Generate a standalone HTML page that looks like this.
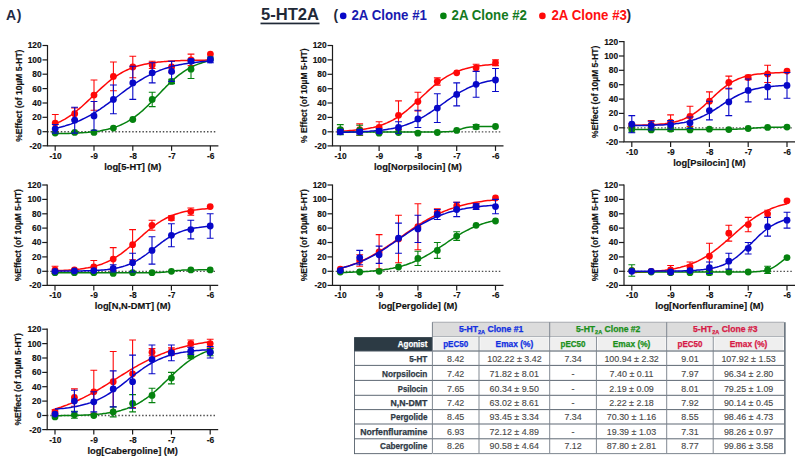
<!DOCTYPE html>
<html><head><meta charset="utf-8"><title>5-HT2A</title>
<style>
html,body{margin:0;padding:0;background:#fff;}
body{width:800px;height:460px;overflow:hidden;font-family:"Liberation Sans",sans-serif;}
svg{display:block;font-family:"Liberation Sans",sans-serif;}
.tk{font-size:8.4px;font-weight:bold;fill:#111;stroke:#111;stroke-width:0.15px;}
.xt{font-size:9.3px;font-weight:bold;fill:#111;stroke:#111;stroke-width:0.15px;}
.yt{font-size:8.5px;font-weight:bold;fill:#111;stroke:#111;stroke-width:0.15px;}
.th{font-size:8.4px;font-weight:bold;stroke-width:0.25px;}
.tn{font-size:8.4px;font-weight:bold;fill:#2f3a46;stroke:#2f3a46;stroke-width:0.25px;}
.td{font-size:8.4px;fill:#484848;stroke:#484848;stroke-width:0.12px;}
</style></head><body>
<svg width="800" height="460" viewBox="0 0 800 460">
<rect width="800" height="460" fill="#fff"/>
<text x="6" y="20.2" font-size="14px" font-weight="bold" fill="#1f2a44">A<tspan dx="0.7">)</tspan></text>
<text x="261" y="20.4" font-size="16px" font-weight="bold" fill="#1f2937" textLength="58" lengthAdjust="spacingAndGlyphs">5-HT2A</text>
<rect x="260.5" y="22.6" width="59" height="1.7" fill="#1f2937"/>
<g font-size="13.8px" font-weight="bold">
<text x="333.5" y="20.0" fill="#1f2937">(</text>
<circle cx="343.2" cy="15.9" r="3.3" fill="#0808c8"/>
<text x="351.5" y="20.0" fill="#1a1ab0" textLength="75.4" lengthAdjust="spacingAndGlyphs">2A Clone #1</text>
<circle cx="443.4" cy="15.9" r="3.3" fill="#05820f"/>
<text x="451.6" y="20.0" fill="#157a1e" textLength="75.4" lengthAdjust="spacingAndGlyphs">2A Clone #2</text>
<circle cx="542.4" cy="15.9" r="3.3" fill="#ff0808"/>
<text x="551.5" y="20.0" fill="#ff1010" textLength="75.4" lengthAdjust="spacingAndGlyphs">2A Clone #3</text>
<text x="626.6" y="20.0" fill="#1f2937">)</text>
</g>
<g>
<line x1="47.2" y1="131.7" x2="216.4" y2="131.7" stroke="#505050" stroke-width="1.35" stroke-dasharray="1.5 1.9"/>
<polyline points="55.2,123.8 57.2,123.0 59.1,122.1 61.1,121.2 63.0,120.2 65.0,119.1 66.9,117.9 68.8,116.7 70.8,115.3 72.7,113.9 74.7,112.5 76.6,110.9 78.5,109.3 80.5,107.7 82.4,106.0 84.3,104.2 86.3,102.4 88.2,100.6 90.2,98.7 92.1,96.8 94.0,94.9 96.0,93.1 97.9,91.2 99.9,89.4 101.8,87.6 103.8,85.9 105.7,84.2 107.6,82.5 109.6,80.9 111.5,79.4 113.4,78.0 115.4,76.6 117.3,75.3 119.3,74.1 121.2,73.0 123.1,71.9 125.1,70.9 127.0,70.0 129.0,69.1 130.9,68.3 132.8,67.6 134.8,66.9 136.7,66.3 138.7,65.7 140.6,65.2 142.6,64.7 144.5,64.3 146.4,63.9 148.4,63.5 150.3,63.2 152.2,62.9 154.2,62.6 156.1,62.4 158.1,62.1 160.0,61.9 161.9,61.7 163.9,61.6 165.8,61.4 167.8,61.3 169.7,61.2 171.6,61.0 173.6,60.9 175.5,60.8 177.5,60.8 179.4,60.7 181.3,60.6 183.3,60.6 185.2,60.5 187.2,60.4 189.1,60.4 191.0,60.4 193.0,60.3 194.9,60.3 196.9,60.3 198.8,60.2 200.8,60.2 202.7,60.2 204.6,60.2 206.6,60.1 208.5,60.1 210.4,60.1" fill="none" stroke="#ff0808" stroke-width="1.5" stroke-linejoin="round"/>
<path d="M55.2 114.5V131.7M51.9 114.5h6.8M51.9 131.7h6.8" stroke="#ff0808" stroke-width="1.1" fill="none"/>
<path d="M74.7 108.0V119.5M71.2 108.0h6.8M71.2 119.5h6.8" stroke="#ff0808" stroke-width="1.1" fill="none"/>
<path d="M94.0 80.0V110.2M90.6 80.0h6.8M90.6 110.2h6.8" stroke="#ff0808" stroke-width="1.1" fill="none"/>
<path d="M113.4 62.0V90.8M110.0 62.0h6.8M110.0 90.8h6.8" stroke="#ff0808" stroke-width="1.1" fill="none"/>
<path d="M132.8 56.3V77.8M129.4 56.3h6.8M129.4 77.8h6.8" stroke="#ff0808" stroke-width="1.1" fill="none"/>
<path d="M152.2 61.3V68.5M148.8 61.3h6.8M148.8 68.5h6.8" stroke="#ff0808" stroke-width="1.1" fill="none"/>
<path d="M171.6 61.3V72.8M168.2 61.3h6.8M168.2 72.8h6.8" stroke="#ff0808" stroke-width="1.1" fill="none"/>
<path d="M191.0 54.1V65.6M187.6 54.1h6.8M187.6 65.6h6.8" stroke="#ff0808" stroke-width="1.1" fill="none"/>
<circle cx="55.2" cy="123.1" r="3.4" fill="#ff0808"/>
<circle cx="74.7" cy="113.7" r="3.4" fill="#ff0808"/>
<circle cx="94.0" cy="95.1" r="3.4" fill="#ff0808"/>
<circle cx="113.4" cy="76.4" r="3.4" fill="#ff0808"/>
<circle cx="132.8" cy="67.0" r="3.4" fill="#ff0808"/>
<circle cx="152.2" cy="64.9" r="3.4" fill="#ff0808"/>
<circle cx="171.6" cy="67.0" r="3.4" fill="#ff0808"/>
<circle cx="191.0" cy="59.9" r="3.4" fill="#ff0808"/>
<circle cx="210.4" cy="54.1" r="3.4" fill="#ff0808"/>
<polyline points="55.2,133.7 57.2,133.6 59.1,133.6 61.1,133.6 63.0,133.5 65.0,133.5 66.9,133.4 68.8,133.4 70.8,133.3 72.7,133.2 74.7,133.1 76.6,133.1 78.5,133.0 80.5,132.8 82.4,132.7 84.3,132.6 86.3,132.4 88.2,132.3 90.2,132.1 92.1,131.9 94.0,131.7 96.0,131.4 97.9,131.2 99.9,130.9 101.8,130.5 103.8,130.1 105.7,129.7 107.6,129.3 109.6,128.8 111.5,128.3 113.4,127.7 115.4,127.0 117.3,126.4 119.3,125.6 121.2,124.8 123.1,123.9 125.1,122.9 127.0,121.9 129.0,120.7 130.9,119.5 132.8,118.2 134.8,116.9 136.7,115.4 138.7,113.9 140.6,112.3 142.6,110.6 144.5,108.8 146.4,107.0 148.4,105.1 150.3,103.1 152.2,101.2 154.2,99.1 156.1,97.1 158.1,95.0 160.0,93.0 161.9,90.9 163.9,88.9 165.8,86.9 167.8,85.0 169.7,83.1 171.6,81.3 173.6,79.5 175.5,77.8 177.5,76.2 179.4,74.7 181.3,73.3 183.3,71.9 185.2,70.6 187.2,69.4 189.1,68.3 191.0,67.3 193.0,66.3 194.9,65.4 196.9,64.6 198.8,63.9 200.8,63.2 202.7,62.5 204.6,62.0 206.6,61.4 208.5,60.9 210.4,60.5" fill="none" stroke="#05820f" stroke-width="1.5" stroke-linejoin="round"/>
<path d="M152.2 92.2V106.6M148.8 92.2h6.8M148.8 106.6h6.8" stroke="#05820f" stroke-width="1.1" fill="none"/>
<path d="M171.6 79.3V83.6M168.2 79.3h6.8M168.2 83.6h6.8" stroke="#05820f" stroke-width="1.1" fill="none"/>
<path d="M191.0 59.9V78.5M187.6 59.9h6.8M187.6 78.5h6.8" stroke="#05820f" stroke-width="1.1" fill="none"/>
<circle cx="55.2" cy="133.1" r="3.4" fill="#05820f"/>
<circle cx="74.7" cy="132.4" r="3.4" fill="#05820f"/>
<circle cx="94.0" cy="132.4" r="3.4" fill="#05820f"/>
<circle cx="113.4" cy="128.1" r="3.4" fill="#05820f"/>
<circle cx="132.8" cy="119.5" r="3.4" fill="#05820f"/>
<circle cx="152.2" cy="99.4" r="3.4" fill="#05820f"/>
<circle cx="171.6" cy="81.4" r="3.4" fill="#05820f"/>
<circle cx="191.0" cy="69.2" r="3.4" fill="#05820f"/>
<circle cx="210.4" cy="59.1" r="3.4" fill="#05820f"/>
<polyline points="55.2,128.2 57.2,127.8 59.1,127.4 61.1,126.9 63.0,126.4 65.0,125.9 66.9,125.3 68.8,124.7 70.8,124.1 72.7,123.4 74.7,122.6 76.6,121.9 78.5,121.1 80.5,120.2 82.4,119.3 84.3,118.4 86.3,117.4 88.2,116.4 90.2,115.3 92.1,114.2 94.0,113.0 96.0,111.8 97.9,110.5 99.9,109.3 101.8,107.9 103.8,106.6 105.7,105.2 107.6,103.8 109.6,102.3 111.5,100.9 113.4,99.4 115.4,98.0 117.3,96.5 119.3,95.0 121.2,93.5 123.1,92.1 125.1,90.6 127.0,89.2 129.0,87.8 130.9,86.4 132.8,85.0 134.8,83.7 136.7,82.4 138.7,81.2 140.6,80.0 142.6,78.8 144.5,77.7 146.4,76.6 148.4,75.6 150.3,74.6 152.2,73.7 154.2,72.8 156.1,71.9 158.1,71.1 160.0,70.3 161.9,69.6 163.9,68.9 165.8,68.3 167.8,67.7 169.7,67.1 171.6,66.6 173.6,66.1 175.5,65.6 177.5,65.2 179.4,64.8 181.3,64.4 183.3,64.1 185.2,63.7 187.2,63.4 189.1,63.1 191.0,62.9 193.0,62.6 194.9,62.4 196.9,62.2 198.8,62.0 200.8,61.8 202.7,61.6 204.6,61.5 206.6,61.3 208.5,61.2 210.4,61.0" fill="none" stroke="#0808c8" stroke-width="1.5" stroke-linejoin="round"/>
<path d="M55.2 124.5V133.1M51.9 124.5h6.8M51.9 133.1h6.8" stroke="#0808c8" stroke-width="1.1" fill="none"/>
<path d="M74.7 107.3V133.1M71.2 107.3h6.8M71.2 133.1h6.8" stroke="#0808c8" stroke-width="1.1" fill="none"/>
<path d="M94.0 101.5V130.3M90.6 101.5h6.8M90.6 130.3h6.8" stroke="#0808c8" stroke-width="1.1" fill="none"/>
<path d="M113.4 85.0V113.7M110.0 85.0h6.8M110.0 113.7h6.8" stroke="#0808c8" stroke-width="1.1" fill="none"/>
<path d="M132.8 66.3V99.4M129.4 66.3h6.8M129.4 99.4h6.8" stroke="#0808c8" stroke-width="1.1" fill="none"/>
<path d="M152.2 62.7V82.9M148.8 62.7h6.8M148.8 82.9h6.8" stroke="#0808c8" stroke-width="1.1" fill="none"/>
<path d="M171.6 61.3V81.4M168.2 61.3h6.8M168.2 81.4h6.8" stroke="#0808c8" stroke-width="1.1" fill="none"/>
<path d="M191.0 59.1V63.5M187.6 59.1h6.8M187.6 63.5h6.8" stroke="#0808c8" stroke-width="1.1" fill="none"/>
<path d="M210.4 57.0V62.7M207.0 57.0h6.8M207.0 62.7h6.8" stroke="#0808c8" stroke-width="1.1" fill="none"/>
<circle cx="55.2" cy="128.8" r="3.4" fill="#0808c8"/>
<circle cx="74.7" cy="120.2" r="3.4" fill="#0808c8"/>
<circle cx="94.0" cy="115.9" r="3.4" fill="#0808c8"/>
<circle cx="113.4" cy="99.4" r="3.4" fill="#0808c8"/>
<circle cx="132.8" cy="82.9" r="3.4" fill="#0808c8"/>
<circle cx="152.2" cy="72.8" r="3.4" fill="#0808c8"/>
<circle cx="171.6" cy="71.4" r="3.4" fill="#0808c8"/>
<circle cx="191.0" cy="61.3" r="3.4" fill="#0808c8"/>
<circle cx="210.4" cy="59.9" r="3.4" fill="#0808c8"/>
<path d="M47.5 44.9V145.8H218.4" stroke="#1c1c1c" stroke-width="1.2" fill="none"/>
<line x1="42.5" y1="145.8" x2="47.5" y2="145.8" stroke="#1c1c1c" stroke-width="1.2"/>
<text x="41.7" y="148.7" text-anchor="end" class="tk">-20</text>
<line x1="42.5" y1="131.7" x2="47.5" y2="131.7" stroke="#1c1c1c" stroke-width="1.2"/>
<text x="41.7" y="134.6" text-anchor="end" class="tk">0</text>
<line x1="42.5" y1="117.3" x2="47.5" y2="117.3" stroke="#1c1c1c" stroke-width="1.2"/>
<text x="41.7" y="120.2" text-anchor="end" class="tk">20</text>
<line x1="42.5" y1="103.0" x2="47.5" y2="103.0" stroke="#1c1c1c" stroke-width="1.2"/>
<text x="41.7" y="105.9" text-anchor="end" class="tk">40</text>
<line x1="42.5" y1="88.6" x2="47.5" y2="88.6" stroke="#1c1c1c" stroke-width="1.2"/>
<text x="41.7" y="91.5" text-anchor="end" class="tk">60</text>
<line x1="42.5" y1="74.2" x2="47.5" y2="74.2" stroke="#1c1c1c" stroke-width="1.2"/>
<text x="41.7" y="77.1" text-anchor="end" class="tk">80</text>
<line x1="42.5" y1="59.9" x2="47.5" y2="59.9" stroke="#1c1c1c" stroke-width="1.2"/>
<text x="41.7" y="62.8" text-anchor="end" class="tk">100</text>
<line x1="42.5" y1="45.5" x2="47.5" y2="45.5" stroke="#1c1c1c" stroke-width="1.2"/>
<text x="41.7" y="48.4" text-anchor="end" class="tk">120</text>
<line x1="55.2" y1="145.8" x2="55.2" y2="150.8" stroke="#1c1c1c" stroke-width="1.2"/>
<text x="55.5" y="158.7" text-anchor="middle" class="tk">-10</text>
<line x1="94.0" y1="145.8" x2="94.0" y2="150.8" stroke="#1c1c1c" stroke-width="1.2"/>
<text x="94.3" y="158.7" text-anchor="middle" class="tk">-9</text>
<line x1="132.8" y1="145.8" x2="132.8" y2="150.8" stroke="#1c1c1c" stroke-width="1.2"/>
<text x="133.2" y="158.7" text-anchor="middle" class="tk">-8</text>
<line x1="171.6" y1="145.8" x2="171.6" y2="150.8" stroke="#1c1c1c" stroke-width="1.2"/>
<text x="171.9" y="158.7" text-anchor="middle" class="tk">-7</text>
<line x1="210.4" y1="145.8" x2="210.4" y2="150.8" stroke="#1c1c1c" stroke-width="1.2"/>
<text x="210.8" y="158.7" text-anchor="middle" class="tk">-6</text>
<text x="132.8" y="169.8" text-anchor="middle" class="xt">log[5-HT] (M)</text>
<text transform="translate(21.6 95.7) rotate(-90)" text-anchor="middle" class="yt">%Effect (of 10µM 5-HT)</text>
</g>
<g>
<line x1="332.2" y1="131.8" x2="501.5" y2="131.8" stroke="#505050" stroke-width="1.35" stroke-dasharray="1.5 1.9"/>
<polyline points="340.3,131.1 342.2,131.1 344.2,131.0 346.1,130.9 348.1,130.7 350.0,130.6 351.9,130.5 353.9,130.3 355.8,130.1 357.8,129.9 359.7,129.7 361.6,129.5 363.6,129.2 365.5,128.9 367.5,128.6 369.4,128.2 371.3,127.8 373.3,127.4 375.2,126.9 377.2,126.4 379.1,125.8 381.0,125.2 383.0,124.5 384.9,123.7 386.9,122.9 388.8,122.0 390.7,121.1 392.7,120.1 394.6,119.0 396.6,117.8 398.5,116.6 400.4,115.3 402.4,113.9 404.3,112.4 406.3,110.9 408.2,109.3 410.1,107.6 412.1,105.9 414.0,104.1 416.0,102.3 417.9,100.5 419.8,98.7 421.8,96.8 423.7,95.0 425.7,93.2 427.6,91.4 429.5,89.6 431.5,87.9 433.4,86.2 435.4,84.6 437.3,83.1 439.2,81.6 441.2,80.2 443.1,78.9 445.1,77.6 447.0,76.4 448.9,75.3 450.9,74.3 452.8,73.3 454.8,72.4 456.7,71.6 458.6,70.9 460.6,70.2 462.5,69.5 464.5,69.0 466.4,68.4 468.3,67.9 470.3,67.5 472.2,67.1 474.2,66.7 476.1,66.4 478.0,66.1 480.0,65.8 481.9,65.6 483.9,65.3 485.8,65.1 487.7,65.0 489.7,64.8 491.6,64.6 493.6,64.5 495.5,64.4" fill="none" stroke="#ff0808" stroke-width="1.5" stroke-linejoin="round"/>
<path d="M340.3 128.2V132.5M336.9 128.2h6.8M336.9 132.5h6.8" stroke="#ff0808" stroke-width="1.1" fill="none"/>
<path d="M359.7 123.9V135.3M356.3 123.9h6.8M356.3 135.3h6.8" stroke="#ff0808" stroke-width="1.1" fill="none"/>
<path d="M379.1 121.7V133.2M375.7 121.7h6.8M375.7 133.2h6.8" stroke="#ff0808" stroke-width="1.1" fill="none"/>
<path d="M398.5 100.9V129.6M395.1 100.9h6.8M395.1 129.6h6.8" stroke="#ff0808" stroke-width="1.1" fill="none"/>
<path d="M417.9 92.2V110.9M414.5 92.2h6.8M414.5 110.9h6.8" stroke="#ff0808" stroke-width="1.1" fill="none"/>
<path d="M437.3 77.9V85.1M433.9 77.9h6.8M433.9 85.1h6.8" stroke="#ff0808" stroke-width="1.1" fill="none"/>
<path d="M476.1 64.2V71.4M472.7 64.2h6.8M472.7 71.4h6.8" stroke="#ff0808" stroke-width="1.1" fill="none"/>
<path d="M495.5 59.9V65.6M492.1 59.9h6.8M492.1 65.6h6.8" stroke="#ff0808" stroke-width="1.1" fill="none"/>
<circle cx="340.3" cy="130.4" r="3.4" fill="#ff0808"/>
<circle cx="359.7" cy="129.6" r="3.4" fill="#ff0808"/>
<circle cx="379.1" cy="127.5" r="3.4" fill="#ff0808"/>
<circle cx="398.5" cy="115.3" r="3.4" fill="#ff0808"/>
<circle cx="417.9" cy="101.6" r="3.4" fill="#ff0808"/>
<circle cx="437.3" cy="81.5" r="3.4" fill="#ff0808"/>
<circle cx="456.7" cy="72.8" r="3.4" fill="#ff0808"/>
<circle cx="476.1" cy="67.8" r="3.4" fill="#ff0808"/>
<circle cx="495.5" cy="62.8" r="3.4" fill="#ff0808"/>
<polyline points="340.3,131.9 342.2,131.9 344.2,131.9 346.1,131.9 348.1,131.9 350.0,131.9 351.9,131.9 353.9,131.9 355.8,131.9 357.8,131.9 359.7,131.9 361.6,131.9 363.6,131.9 365.5,131.9 367.5,131.9 369.4,131.9 371.3,131.9 373.3,131.9 375.2,131.9 377.2,131.9 379.1,131.9 381.0,131.9 383.0,131.9 384.9,131.9 386.9,131.9 388.8,131.9 390.7,131.9 392.7,131.9 394.6,131.9 396.6,131.9 398.5,131.9 400.4,131.9 402.4,131.9 404.3,131.9 406.3,131.9 408.2,131.9 410.1,131.9 412.1,131.9 414.0,131.9 416.0,131.9 417.9,131.9 419.8,131.9 421.8,131.9 423.7,131.9 425.7,131.9 427.6,131.9 429.5,131.9 431.5,131.9 433.4,131.9 435.4,131.9 437.3,131.9 439.2,131.9 441.2,131.9 443.1,131.8 445.1,131.8 447.0,131.7 448.9,131.6 450.9,131.4 452.8,131.2 454.8,130.8 456.7,130.4 458.6,129.8 460.6,129.2 462.5,128.6 464.5,128.1 466.4,127.6 468.3,127.3 470.3,127.0 472.2,126.9 474.2,126.8 476.1,126.7 478.0,126.6 480.0,126.6 481.9,126.6 483.9,126.6 485.8,126.6 487.7,126.6 489.7,126.6 491.6,126.6 493.6,126.6 495.5,126.6" fill="none" stroke="#05820f" stroke-width="1.5" stroke-linejoin="round"/>
<path d="M340.3 124.6V134.6M336.9 124.6h6.8M336.9 134.6h6.8" stroke="#05820f" stroke-width="1.1" fill="none"/>
<path d="M359.7 125.3V135.3M356.3 125.3h6.8M356.3 135.3h6.8" stroke="#05820f" stroke-width="1.1" fill="none"/>
<path d="M476.1 124.6V128.9M472.7 124.6h6.8M472.7 128.9h6.8" stroke="#05820f" stroke-width="1.1" fill="none"/>
<circle cx="340.3" cy="129.6" r="3.4" fill="#05820f"/>
<circle cx="359.7" cy="130.4" r="3.4" fill="#05820f"/>
<circle cx="379.1" cy="133.2" r="3.4" fill="#05820f"/>
<circle cx="398.5" cy="132.5" r="3.4" fill="#05820f"/>
<circle cx="417.9" cy="133.2" r="3.4" fill="#05820f"/>
<circle cx="437.3" cy="132.5" r="3.4" fill="#05820f"/>
<circle cx="456.7" cy="130.4" r="3.4" fill="#05820f"/>
<circle cx="476.1" cy="126.8" r="3.4" fill="#05820f"/>
<circle cx="495.5" cy="126.5" r="3.4" fill="#05820f"/>
<polyline points="340.3,132.3 342.2,132.3 344.2,132.3 346.1,132.2 348.1,132.2 350.0,132.1 351.9,132.1 353.9,132.0 355.8,132.0 357.8,131.9 359.7,131.8 361.6,131.7 363.6,131.6 365.5,131.5 367.5,131.4 369.4,131.3 371.3,131.1 373.3,131.0 375.2,130.8 377.2,130.6 379.1,130.4 381.0,130.2 383.0,130.0 384.9,129.7 386.9,129.4 388.8,129.1 390.7,128.8 392.7,128.4 394.6,128.0 396.6,127.5 398.5,127.1 400.4,126.5 402.4,126.0 404.3,125.4 406.3,124.7 408.2,124.0 410.1,123.3 412.1,122.5 414.0,121.6 416.0,120.7 417.9,119.8 419.8,118.8 421.8,117.7 423.7,116.6 425.7,115.4 427.6,114.2 429.5,113.0 431.5,111.7 433.4,110.4 435.4,109.0 437.3,107.6 439.2,106.3 441.2,104.9 443.1,103.5 445.1,102.1 447.0,100.7 448.9,99.4 450.9,98.0 452.8,96.7 454.8,95.5 456.7,94.2 458.6,93.1 460.6,91.9 462.5,90.8 464.5,89.8 466.4,88.8 468.3,87.9 470.3,87.0 472.2,86.2 474.2,85.4 476.1,84.7 478.0,84.0 480.0,83.4 481.9,82.8 483.9,82.3 485.8,81.8 487.7,81.3 489.7,80.9 491.6,80.5 493.6,80.2 495.5,79.8" fill="none" stroke="#0808c8" stroke-width="1.5" stroke-linejoin="round"/>
<path d="M340.3 129.6V133.9M336.9 129.6h6.8M336.9 133.9h6.8" stroke="#0808c8" stroke-width="1.1" fill="none"/>
<path d="M359.7 129.6V133.9M356.3 129.6h6.8M356.3 133.9h6.8" stroke="#0808c8" stroke-width="1.1" fill="none"/>
<path d="M379.1 128.9V133.2M375.7 128.9h6.8M375.7 133.2h6.8" stroke="#0808c8" stroke-width="1.1" fill="none"/>
<path d="M398.5 121.7V133.2M395.1 121.7h6.8M395.1 133.2h6.8" stroke="#0808c8" stroke-width="1.1" fill="none"/>
<path d="M417.9 110.2V127.5M414.5 110.2h6.8M414.5 127.5h6.8" stroke="#0808c8" stroke-width="1.1" fill="none"/>
<path d="M437.3 93.7V122.5M433.9 93.7h6.8M433.9 122.5h6.8" stroke="#0808c8" stroke-width="1.1" fill="none"/>
<path d="M456.7 82.9V105.9M453.3 82.9h6.8M453.3 105.9h6.8" stroke="#0808c8" stroke-width="1.1" fill="none"/>
<path d="M476.1 71.4V97.3M472.7 71.4h6.8M472.7 97.3h6.8" stroke="#0808c8" stroke-width="1.1" fill="none"/>
<path d="M495.5 68.5V91.5M492.1 68.5h6.8M492.1 91.5h6.8" stroke="#0808c8" stroke-width="1.1" fill="none"/>
<circle cx="340.3" cy="131.8" r="3.4" fill="#0808c8"/>
<circle cx="359.7" cy="131.8" r="3.4" fill="#0808c8"/>
<circle cx="379.1" cy="131.1" r="3.4" fill="#0808c8"/>
<circle cx="398.5" cy="127.5" r="3.4" fill="#0808c8"/>
<circle cx="417.9" cy="118.9" r="3.4" fill="#0808c8"/>
<circle cx="437.3" cy="108.1" r="3.4" fill="#0808c8"/>
<circle cx="456.7" cy="94.4" r="3.4" fill="#0808c8"/>
<circle cx="476.1" cy="84.3" r="3.4" fill="#0808c8"/>
<circle cx="495.5" cy="80.0" r="3.4" fill="#0808c8"/>
<path d="M332.5 44.9V145.9H503.5" stroke="#1c1c1c" stroke-width="1.2" fill="none"/>
<line x1="327.5" y1="145.9" x2="332.5" y2="145.9" stroke="#1c1c1c" stroke-width="1.2"/>
<text x="326.7" y="148.8" text-anchor="end" class="tk">-20</text>
<line x1="327.5" y1="131.8" x2="332.5" y2="131.8" stroke="#1c1c1c" stroke-width="1.2"/>
<text x="326.7" y="134.7" text-anchor="end" class="tk">0</text>
<line x1="327.5" y1="117.4" x2="332.5" y2="117.4" stroke="#1c1c1c" stroke-width="1.2"/>
<text x="326.7" y="120.3" text-anchor="end" class="tk">20</text>
<line x1="327.5" y1="103.0" x2="332.5" y2="103.0" stroke="#1c1c1c" stroke-width="1.2"/>
<text x="326.7" y="105.9" text-anchor="end" class="tk">40</text>
<line x1="327.5" y1="88.7" x2="332.5" y2="88.7" stroke="#1c1c1c" stroke-width="1.2"/>
<text x="326.7" y="91.6" text-anchor="end" class="tk">60</text>
<line x1="327.5" y1="74.3" x2="332.5" y2="74.3" stroke="#1c1c1c" stroke-width="1.2"/>
<text x="326.7" y="77.2" text-anchor="end" class="tk">80</text>
<line x1="327.5" y1="59.9" x2="332.5" y2="59.9" stroke="#1c1c1c" stroke-width="1.2"/>
<text x="326.7" y="62.8" text-anchor="end" class="tk">100</text>
<line x1="327.5" y1="45.5" x2="332.5" y2="45.5" stroke="#1c1c1c" stroke-width="1.2"/>
<text x="326.7" y="48.4" text-anchor="end" class="tk">120</text>
<line x1="340.3" y1="145.9" x2="340.3" y2="150.9" stroke="#1c1c1c" stroke-width="1.2"/>
<text x="340.6" y="158.8" text-anchor="middle" class="tk">-10</text>
<line x1="379.1" y1="145.9" x2="379.1" y2="150.9" stroke="#1c1c1c" stroke-width="1.2"/>
<text x="379.4" y="158.8" text-anchor="middle" class="tk">-9</text>
<line x1="417.9" y1="145.9" x2="417.9" y2="150.9" stroke="#1c1c1c" stroke-width="1.2"/>
<text x="418.2" y="158.8" text-anchor="middle" class="tk">-8</text>
<line x1="456.7" y1="145.9" x2="456.7" y2="150.9" stroke="#1c1c1c" stroke-width="1.2"/>
<text x="457.0" y="158.8" text-anchor="middle" class="tk">-7</text>
<line x1="495.5" y1="145.9" x2="495.5" y2="150.9" stroke="#1c1c1c" stroke-width="1.2"/>
<text x="495.8" y="158.8" text-anchor="middle" class="tk">-6</text>
<text x="417.9" y="169.9" text-anchor="middle" class="xt">log[Norpsilocin] (M)</text>
<text transform="translate(306.6 95.7) rotate(-90)" text-anchor="middle" class="yt">% Effect (of 10µM 5-HT)</text>
</g>
<g>
<line x1="623.7" y1="127.8" x2="793.0" y2="127.8" stroke="#505050" stroke-width="1.35" stroke-dasharray="1.5 1.9"/>
<polyline points="631.8,125.3 633.7,125.3 635.7,125.3 637.6,125.2 639.6,125.2 641.5,125.2 643.4,125.1 645.4,125.0 647.3,125.0 649.3,124.9 651.2,124.8 653.1,124.7 655.1,124.6 657.0,124.5 659.0,124.3 660.9,124.1 662.8,123.9 664.8,123.7 666.7,123.4 668.7,123.1 670.6,122.8 672.5,122.4 674.5,122.0 676.4,121.5 678.4,121.0 680.3,120.3 682.2,119.7 684.2,118.9 686.1,118.0 688.1,117.1 690.0,116.1 691.9,114.9 693.9,113.7 695.8,112.3 697.8,110.9 699.7,109.4 701.6,107.8 703.6,106.1 705.5,104.3 707.5,102.5 709.4,100.7 711.3,98.8 713.3,97.0 715.2,95.1 717.2,93.3 719.1,91.6 721.0,89.9 723.0,88.3 724.9,86.8 726.9,85.3 728.8,84.0 730.7,82.8 732.7,81.7 734.6,80.6 736.6,79.7 738.5,78.8 740.4,78.1 742.4,77.4 744.3,76.8 746.3,76.2 748.2,75.8 750.1,75.3 752.1,75.0 754.0,74.6 756.0,74.3 757.9,74.1 759.8,73.9 761.8,73.7 763.7,73.5 765.7,73.3 767.6,73.2 769.5,73.1 771.5,73.0 773.4,72.9 775.4,72.8 777.3,72.8 779.2,72.7 781.2,72.6 783.1,72.6 785.1,72.6 787.0,72.5" fill="none" stroke="#ff0808" stroke-width="1.5" stroke-linejoin="round"/>
<path d="M631.8 123.5V127.8M628.4 123.5h6.8M628.4 127.8h6.8" stroke="#ff0808" stroke-width="1.1" fill="none"/>
<path d="M651.2 120.6V129.2M647.8 120.6h6.8M647.8 129.2h6.8" stroke="#ff0808" stroke-width="1.1" fill="none"/>
<path d="M670.6 114.9V129.2M667.2 114.9h6.8M667.2 129.2h6.8" stroke="#ff0808" stroke-width="1.1" fill="none"/>
<path d="M690.0 106.2V126.4M686.6 106.2h6.8M686.6 126.4h6.8" stroke="#ff0808" stroke-width="1.1" fill="none"/>
<path d="M709.4 91.9V110.6M706.0 91.9h6.8M706.0 110.6h6.8" stroke="#ff0808" stroke-width="1.1" fill="none"/>
<path d="M728.8 76.1V89.0M725.4 76.1h6.8M725.4 89.0h6.8" stroke="#ff0808" stroke-width="1.1" fill="none"/>
<path d="M748.2 75.4V79.7M744.8 75.4h6.8M744.8 79.7h6.8" stroke="#ff0808" stroke-width="1.1" fill="none"/>
<path d="M767.6 65.3V82.5M764.2 65.3h6.8M764.2 82.5h6.8" stroke="#ff0808" stroke-width="1.1" fill="none"/>
<circle cx="631.8" cy="125.6" r="3.4" fill="#ff0808"/>
<circle cx="651.2" cy="124.9" r="3.4" fill="#ff0808"/>
<circle cx="670.6" cy="122.1" r="3.4" fill="#ff0808"/>
<circle cx="690.0" cy="116.3" r="3.4" fill="#ff0808"/>
<circle cx="709.4" cy="101.2" r="3.4" fill="#ff0808"/>
<circle cx="728.8" cy="82.5" r="3.4" fill="#ff0808"/>
<circle cx="748.2" cy="77.5" r="3.4" fill="#ff0808"/>
<circle cx="767.6" cy="73.9" r="3.4" fill="#ff0808"/>
<circle cx="787.0" cy="71.1" r="3.4" fill="#ff0808"/>
<polyline points="631.8,129.5 633.7,129.5 635.7,129.5 637.6,129.5 639.6,129.5 641.5,129.5 643.4,129.5 645.4,129.5 647.3,129.5 649.3,129.5 651.2,129.5 653.1,129.5 655.1,129.5 657.0,129.5 659.0,129.5 660.9,129.5 662.8,129.5 664.8,129.5 666.7,129.5 668.7,129.5 670.6,129.5 672.5,129.5 674.5,129.5 676.4,129.5 678.4,129.5 680.3,129.5 682.2,129.5 684.2,129.5 686.1,129.5 688.1,129.5 690.0,129.5 691.9,129.5 693.9,129.5 695.8,129.5 697.8,129.5 699.7,129.5 701.6,129.5 703.6,129.5 705.5,129.5 707.5,129.5 709.4,129.5 711.3,129.5 713.3,129.5 715.2,129.5 717.2,129.5 719.1,129.5 721.0,129.5 723.0,129.5 724.9,129.4 726.9,129.4 728.8,129.4 730.7,129.4 732.7,129.3 734.6,129.3 736.6,129.2 738.5,129.1 740.4,129.1 742.4,128.9 744.3,128.8 746.3,128.7 748.2,128.6 750.1,128.4 752.1,128.3 754.0,128.1 756.0,128.0 757.9,127.8 759.8,127.7 761.8,127.6 763.7,127.5 765.7,127.4 767.6,127.4 769.5,127.3 771.5,127.3 773.4,127.2 775.4,127.2 777.3,127.2 779.2,127.2 781.2,127.2 783.1,127.1 785.1,127.1 787.0,127.1" fill="none" stroke="#05820f" stroke-width="1.5" stroke-linejoin="round"/>
<path d="M631.8 126.4V132.0M628.4 126.4h6.8M628.4 132.0h6.8" stroke="#05820f" stroke-width="1.1" fill="none"/>
<path d="M670.6 127.1V131.3M667.2 127.1h6.8M667.2 131.3h6.8" stroke="#05820f" stroke-width="1.1" fill="none"/>
<circle cx="631.8" cy="129.2" r="3.4" fill="#05820f"/>
<circle cx="651.2" cy="129.9" r="3.4" fill="#05820f"/>
<circle cx="670.6" cy="129.2" r="3.4" fill="#05820f"/>
<circle cx="690.0" cy="129.9" r="3.4" fill="#05820f"/>
<circle cx="709.4" cy="129.2" r="3.4" fill="#05820f"/>
<circle cx="728.8" cy="129.6" r="3.4" fill="#05820f"/>
<circle cx="748.2" cy="128.5" r="3.4" fill="#05820f"/>
<circle cx="767.6" cy="127.4" r="3.4" fill="#05820f"/>
<circle cx="787.0" cy="127.1" r="3.4" fill="#05820f"/>
<polyline points="631.8,125.6 633.7,125.6 635.7,125.6 637.6,125.6 639.6,125.6 641.5,125.5 643.4,125.5 645.4,125.5 647.3,125.4 649.3,125.4 651.2,125.3 653.1,125.3 655.1,125.2 657.0,125.1 659.0,125.1 660.9,125.0 662.8,124.9 664.8,124.7 666.7,124.6 668.7,124.5 670.6,124.3 672.5,124.1 674.5,123.9 676.4,123.6 678.4,123.4 680.3,123.1 682.2,122.7 684.2,122.4 686.1,122.0 688.1,121.5 690.0,121.0 691.9,120.4 693.9,119.8 695.8,119.2 697.8,118.4 699.7,117.7 701.6,116.8 703.6,115.9 705.5,114.9 707.5,113.9 709.4,112.8 711.3,111.7 713.3,110.5 715.2,109.3 717.2,108.0 719.1,106.8 721.0,105.5 723.0,104.2 724.9,102.9 726.9,101.7 728.8,100.5 730.7,99.3 732.7,98.1 734.6,97.0 736.6,96.0 738.5,95.0 740.4,94.1 742.4,93.2 744.3,92.4 746.3,91.7 748.2,91.0 750.1,90.4 752.1,89.8 754.0,89.3 756.0,88.8 757.9,88.4 759.8,88.0 761.8,87.6 763.7,87.3 765.7,87.1 767.6,86.8 769.5,86.6 771.5,86.4 773.4,86.2 775.4,86.1 777.3,85.9 779.2,85.8 781.2,85.7 783.1,85.6 785.1,85.5 787.0,85.4" fill="none" stroke="#0808c8" stroke-width="1.5" stroke-linejoin="round"/>
<path d="M631.8 115.6V132.7M628.4 115.6h6.8M628.4 132.7h6.8" stroke="#0808c8" stroke-width="1.1" fill="none"/>
<path d="M651.2 121.3V129.9M647.8 121.3h6.8M647.8 129.9h6.8" stroke="#0808c8" stroke-width="1.1" fill="none"/>
<path d="M670.6 120.6V129.2M667.2 120.6h6.8M667.2 129.2h6.8" stroke="#0808c8" stroke-width="1.1" fill="none"/>
<path d="M690.0 117.0V128.5M686.6 117.0h6.8M686.6 128.5h6.8" stroke="#0808c8" stroke-width="1.1" fill="none"/>
<path d="M709.4 101.2V119.9M706.0 101.2h6.8M706.0 119.9h6.8" stroke="#0808c8" stroke-width="1.1" fill="none"/>
<path d="M728.8 88.3V115.6M725.4 88.3h6.8M725.4 115.6h6.8" stroke="#0808c8" stroke-width="1.1" fill="none"/>
<path d="M748.2 79.0V101.9M744.8 79.0h6.8M744.8 101.9h6.8" stroke="#0808c8" stroke-width="1.1" fill="none"/>
<path d="M767.6 74.6V99.1M764.2 74.6h6.8M764.2 99.1h6.8" stroke="#0808c8" stroke-width="1.1" fill="none"/>
<path d="M787.0 72.5V98.3M783.6 72.5h6.8M783.6 98.3h6.8" stroke="#0808c8" stroke-width="1.1" fill="none"/>
<circle cx="631.8" cy="124.2" r="3.4" fill="#0808c8"/>
<circle cx="651.2" cy="125.6" r="3.4" fill="#0808c8"/>
<circle cx="670.6" cy="124.9" r="3.4" fill="#0808c8"/>
<circle cx="690.0" cy="122.8" r="3.4" fill="#0808c8"/>
<circle cx="709.4" cy="110.6" r="3.4" fill="#0808c8"/>
<circle cx="728.8" cy="101.9" r="3.4" fill="#0808c8"/>
<circle cx="748.2" cy="90.4" r="3.4" fill="#0808c8"/>
<circle cx="767.6" cy="86.9" r="3.4" fill="#0808c8"/>
<circle cx="787.0" cy="85.4" r="3.4" fill="#0808c8"/>
<path d="M624.0 41.0V141.9H795.0" stroke="#1c1c1c" stroke-width="1.2" fill="none"/>
<line x1="619.0" y1="141.9" x2="624.0" y2="141.9" stroke="#1c1c1c" stroke-width="1.2"/>
<text x="618.2" y="144.8" text-anchor="end" class="tk">-20</text>
<line x1="619.0" y1="127.8" x2="624.0" y2="127.8" stroke="#1c1c1c" stroke-width="1.2"/>
<text x="618.2" y="130.7" text-anchor="end" class="tk">0</text>
<line x1="619.0" y1="113.4" x2="624.0" y2="113.4" stroke="#1c1c1c" stroke-width="1.2"/>
<text x="618.2" y="116.3" text-anchor="end" class="tk">20</text>
<line x1="619.0" y1="99.1" x2="624.0" y2="99.1" stroke="#1c1c1c" stroke-width="1.2"/>
<text x="618.2" y="102.0" text-anchor="end" class="tk">40</text>
<line x1="619.0" y1="84.7" x2="624.0" y2="84.7" stroke="#1c1c1c" stroke-width="1.2"/>
<text x="618.2" y="87.6" text-anchor="end" class="tk">60</text>
<line x1="619.0" y1="70.3" x2="624.0" y2="70.3" stroke="#1c1c1c" stroke-width="1.2"/>
<text x="618.2" y="73.2" text-anchor="end" class="tk">80</text>
<line x1="619.0" y1="56.0" x2="624.0" y2="56.0" stroke="#1c1c1c" stroke-width="1.2"/>
<text x="618.2" y="58.9" text-anchor="end" class="tk">100</text>
<line x1="619.0" y1="41.6" x2="624.0" y2="41.6" stroke="#1c1c1c" stroke-width="1.2"/>
<text x="618.2" y="44.5" text-anchor="end" class="tk">120</text>
<line x1="631.8" y1="141.9" x2="631.8" y2="146.9" stroke="#1c1c1c" stroke-width="1.2"/>
<text x="632.1" y="154.8" text-anchor="middle" class="tk">-10</text>
<line x1="670.6" y1="141.9" x2="670.6" y2="146.9" stroke="#1c1c1c" stroke-width="1.2"/>
<text x="670.9" y="154.8" text-anchor="middle" class="tk">-9</text>
<line x1="709.4" y1="141.9" x2="709.4" y2="146.9" stroke="#1c1c1c" stroke-width="1.2"/>
<text x="709.7" y="154.8" text-anchor="middle" class="tk">-8</text>
<line x1="748.2" y1="141.9" x2="748.2" y2="146.9" stroke="#1c1c1c" stroke-width="1.2"/>
<text x="748.5" y="154.8" text-anchor="middle" class="tk">-7</text>
<line x1="787.0" y1="141.9" x2="787.0" y2="146.9" stroke="#1c1c1c" stroke-width="1.2"/>
<text x="787.3" y="154.8" text-anchor="middle" class="tk">-6</text>
<text x="709.4" y="165.9" text-anchor="middle" class="xt">log[Psilocin] (M)</text>
<text transform="translate(598.1 91.8) rotate(-90)" text-anchor="middle" class="yt">%Effect (of 10µM 5-HT)</text>
</g>
<g>
<line x1="46.9" y1="271.3" x2="216.2" y2="271.3" stroke="#505050" stroke-width="1.35" stroke-dasharray="1.5 1.9"/>
<polyline points="55.0,270.7 56.9,270.6 58.9,270.6 60.8,270.5 62.8,270.4 64.7,270.3 66.6,270.2 68.6,270.1 70.5,269.9 72.5,269.8 74.4,269.6 76.3,269.4 78.3,269.2 80.2,269.0 82.2,268.7 84.1,268.4 86.0,268.1 88.0,267.8 89.9,267.4 91.9,267.0 93.8,266.5 95.7,266.0 97.7,265.4 99.6,264.8 101.6,264.2 103.5,263.4 105.4,262.6 107.4,261.8 109.3,260.9 111.3,259.9 113.2,258.8 115.1,257.7 117.1,256.4 119.0,255.1 121.0,253.8 122.9,252.3 124.8,250.8 126.8,249.3 128.7,247.7 130.7,246.0 132.6,244.3 134.5,242.6 136.5,240.8 138.4,239.1 140.4,237.3 142.3,235.6 144.2,233.8 146.2,232.2 148.1,230.5 150.1,228.9 152.0,227.4 153.9,225.9 155.9,224.5 157.8,223.1 159.8,221.9 161.7,220.7 163.6,219.6 165.6,218.5 167.5,217.5 169.5,216.6 171.4,215.8 173.3,215.0 175.3,214.3 177.2,213.7 179.2,213.1 181.1,212.5 183.0,212.0 185.0,211.6 186.9,211.2 188.9,210.8 190.8,210.5 192.7,210.2 194.7,209.9 196.6,209.7 198.6,209.4 200.5,209.2 202.4,209.0 204.4,208.9 206.3,208.7 208.3,208.6 210.2,208.5" fill="none" stroke="#ff0808" stroke-width="1.5" stroke-linejoin="round"/>
<path d="M55.0 266.3V273.4M51.6 266.3h6.8M51.6 273.4h6.8" stroke="#ff0808" stroke-width="1.1" fill="none"/>
<path d="M93.8 260.5V273.4M90.4 260.5h6.8M90.4 273.4h6.8" stroke="#ff0808" stroke-width="1.1" fill="none"/>
<path d="M113.2 247.6V270.6M109.8 247.6h6.8M109.8 270.6h6.8" stroke="#ff0808" stroke-width="1.1" fill="none"/>
<path d="M132.6 229.6V259.8M129.2 229.6h6.8M129.2 259.8h6.8" stroke="#ff0808" stroke-width="1.1" fill="none"/>
<path d="M152.0 220.2V230.3M148.6 220.2h6.8M148.6 230.3h6.8" stroke="#ff0808" stroke-width="1.1" fill="none"/>
<path d="M171.4 215.9V220.2M168.0 215.9h6.8M168.0 220.2h6.8" stroke="#ff0808" stroke-width="1.1" fill="none"/>
<path d="M190.8 208.0V215.2M187.4 208.0h6.8M187.4 215.2h6.8" stroke="#ff0808" stroke-width="1.1" fill="none"/>
<circle cx="55.0" cy="269.9" r="3.4" fill="#ff0808"/>
<circle cx="74.4" cy="269.9" r="3.4" fill="#ff0808"/>
<circle cx="93.8" cy="267.0" r="3.4" fill="#ff0808"/>
<circle cx="113.2" cy="259.1" r="3.4" fill="#ff0808"/>
<circle cx="132.6" cy="244.7" r="3.4" fill="#ff0808"/>
<circle cx="152.0" cy="225.3" r="3.4" fill="#ff0808"/>
<circle cx="171.4" cy="218.1" r="3.4" fill="#ff0808"/>
<circle cx="190.8" cy="211.6" r="3.4" fill="#ff0808"/>
<circle cx="210.2" cy="206.6" r="3.4" fill="#ff0808"/>
<polyline points="55.0,272.8 56.9,272.8 58.9,272.8 60.8,272.8 62.8,272.8 64.7,272.8 66.6,272.8 68.6,272.8 70.5,272.8 72.5,272.8 74.4,272.8 76.3,272.8 78.3,272.8 80.2,272.8 82.2,272.8 84.1,272.8 86.0,272.8 88.0,272.8 89.9,272.8 91.9,272.8 93.8,272.8 95.7,272.8 97.7,272.8 99.6,272.8 101.6,272.8 103.5,272.8 105.4,272.8 107.4,272.8 109.3,272.8 111.3,272.8 113.2,272.8 115.1,272.8 117.1,272.8 119.0,272.8 121.0,272.8 122.9,272.8 124.8,272.8 126.8,272.8 128.7,272.8 130.7,272.8 132.6,272.8 134.5,272.8 136.5,272.8 138.4,272.8 140.4,272.8 142.3,272.8 144.2,272.8 146.2,272.8 148.1,272.8 150.1,272.8 152.0,272.7 153.9,272.7 155.9,272.6 157.8,272.6 159.8,272.5 161.7,272.3 163.6,272.2 165.6,272.0 167.5,271.8 169.5,271.5 171.4,271.3 173.3,271.0 175.3,270.8 177.2,270.6 179.2,270.4 181.1,270.3 183.0,270.1 185.0,270.1 186.9,270.0 188.9,269.9 190.8,269.9 192.7,269.9 194.7,269.9 196.6,269.9 198.6,269.8 200.5,269.8 202.4,269.8 204.4,269.8 206.3,269.8 208.3,269.8 210.2,269.8" fill="none" stroke="#05820f" stroke-width="1.5" stroke-linejoin="round"/>
<circle cx="55.0" cy="272.7" r="3.4" fill="#05820f"/>
<circle cx="74.4" cy="272.7" r="3.4" fill="#05820f"/>
<circle cx="93.8" cy="272.7" r="3.4" fill="#05820f"/>
<circle cx="113.2" cy="273.4" r="3.4" fill="#05820f"/>
<circle cx="132.6" cy="272.7" r="3.4" fill="#05820f"/>
<circle cx="152.0" cy="272.7" r="3.4" fill="#05820f"/>
<circle cx="171.4" cy="271.3" r="3.4" fill="#05820f"/>
<circle cx="190.8" cy="269.9" r="3.4" fill="#05820f"/>
<circle cx="210.2" cy="269.9" r="3.4" fill="#05820f"/>
<polyline points="55.0,271.1 56.9,271.1 58.9,271.1 60.8,271.1 62.8,271.1 64.7,271.1 66.6,271.1 68.6,271.1 70.5,271.0 72.5,271.0 74.4,271.0 76.3,271.0 78.3,270.9 80.2,270.9 82.2,270.9 84.1,270.8 86.0,270.8 88.0,270.7 89.9,270.7 91.9,270.6 93.8,270.5 95.7,270.4 97.7,270.3 99.6,270.2 101.6,270.0 103.5,269.9 105.4,269.7 107.4,269.5 109.3,269.2 111.3,269.0 113.2,268.7 115.1,268.3 117.1,267.9 119.0,267.5 121.0,267.0 122.9,266.5 124.8,265.9 126.8,265.2 128.7,264.5 130.7,263.7 132.6,262.8 134.5,261.8 136.5,260.8 138.4,259.7 140.4,258.5 142.3,257.2 144.2,255.9 146.2,254.5 148.1,253.0 150.1,251.5 152.0,250.0 153.9,248.5 155.9,246.9 157.8,245.4 159.8,243.9 161.7,242.4 163.6,241.0 165.6,239.7 167.5,238.4 169.5,237.2 171.4,236.0 173.3,235.0 175.3,234.0 177.2,233.1 179.2,232.3 181.1,231.6 183.0,230.9 185.0,230.3 186.9,229.7 188.9,229.2 190.8,228.8 192.7,228.4 194.7,228.0 196.6,227.7 198.6,227.5 200.5,227.2 202.4,227.0 204.4,226.8 206.3,226.6 208.3,226.5 210.2,226.4" fill="none" stroke="#0808c8" stroke-width="1.5" stroke-linejoin="round"/>
<path d="M113.2 264.8V272.0M109.8 264.8h6.8M109.8 272.0h6.8" stroke="#0808c8" stroke-width="1.1" fill="none"/>
<path d="M132.6 253.3V272.0M129.2 253.3h6.8M129.2 272.0h6.8" stroke="#0808c8" stroke-width="1.1" fill="none"/>
<path d="M152.0 236.8V264.1M148.6 236.8h6.8M148.6 264.1h6.8" stroke="#0808c8" stroke-width="1.1" fill="none"/>
<path d="M171.4 223.8V246.8M168.0 223.8h6.8M168.0 246.8h6.8" stroke="#0808c8" stroke-width="1.1" fill="none"/>
<path d="M190.8 220.2V238.9M187.4 220.2h6.8M187.4 238.9h6.8" stroke="#0808c8" stroke-width="1.1" fill="none"/>
<path d="M210.2 213.8V238.2M206.8 213.8h6.8M206.8 238.2h6.8" stroke="#0808c8" stroke-width="1.1" fill="none"/>
<circle cx="55.0" cy="271.3" r="3.4" fill="#0808c8"/>
<circle cx="74.4" cy="270.9" r="3.4" fill="#0808c8"/>
<circle cx="93.8" cy="270.6" r="3.4" fill="#0808c8"/>
<circle cx="113.2" cy="268.4" r="3.4" fill="#0808c8"/>
<circle cx="132.6" cy="262.7" r="3.4" fill="#0808c8"/>
<circle cx="152.0" cy="250.4" r="3.4" fill="#0808c8"/>
<circle cx="171.4" cy="235.3" r="3.4" fill="#0808c8"/>
<circle cx="190.8" cy="229.6" r="3.4" fill="#0808c8"/>
<circle cx="210.2" cy="226.0" r="3.4" fill="#0808c8"/>
<path d="M47.2 184.4V285.4H218.2" stroke="#1c1c1c" stroke-width="1.2" fill="none"/>
<line x1="42.2" y1="285.4" x2="47.2" y2="285.4" stroke="#1c1c1c" stroke-width="1.2"/>
<text x="41.4" y="288.3" text-anchor="end" class="tk">-20</text>
<line x1="42.2" y1="271.3" x2="47.2" y2="271.3" stroke="#1c1c1c" stroke-width="1.2"/>
<text x="41.4" y="274.2" text-anchor="end" class="tk">0</text>
<line x1="42.2" y1="256.9" x2="47.2" y2="256.9" stroke="#1c1c1c" stroke-width="1.2"/>
<text x="41.4" y="259.8" text-anchor="end" class="tk">20</text>
<line x1="42.2" y1="242.5" x2="47.2" y2="242.5" stroke="#1c1c1c" stroke-width="1.2"/>
<text x="41.4" y="245.4" text-anchor="end" class="tk">40</text>
<line x1="42.2" y1="228.1" x2="47.2" y2="228.1" stroke="#1c1c1c" stroke-width="1.2"/>
<text x="41.4" y="231.0" text-anchor="end" class="tk">60</text>
<line x1="42.2" y1="213.8" x2="47.2" y2="213.8" stroke="#1c1c1c" stroke-width="1.2"/>
<text x="41.4" y="216.7" text-anchor="end" class="tk">80</text>
<line x1="42.2" y1="199.4" x2="47.2" y2="199.4" stroke="#1c1c1c" stroke-width="1.2"/>
<text x="41.4" y="202.3" text-anchor="end" class="tk">100</text>
<line x1="42.2" y1="185.0" x2="47.2" y2="185.0" stroke="#1c1c1c" stroke-width="1.2"/>
<text x="41.4" y="187.9" text-anchor="end" class="tk">120</text>
<line x1="55.0" y1="285.4" x2="55.0" y2="290.4" stroke="#1c1c1c" stroke-width="1.2"/>
<text x="55.3" y="298.3" text-anchor="middle" class="tk">-10</text>
<line x1="93.8" y1="285.4" x2="93.8" y2="290.4" stroke="#1c1c1c" stroke-width="1.2"/>
<text x="94.1" y="298.3" text-anchor="middle" class="tk">-9</text>
<line x1="132.6" y1="285.4" x2="132.6" y2="290.4" stroke="#1c1c1c" stroke-width="1.2"/>
<text x="132.9" y="298.3" text-anchor="middle" class="tk">-8</text>
<line x1="171.4" y1="285.4" x2="171.4" y2="290.4" stroke="#1c1c1c" stroke-width="1.2"/>
<text x="171.7" y="298.3" text-anchor="middle" class="tk">-7</text>
<line x1="210.2" y1="285.4" x2="210.2" y2="290.4" stroke="#1c1c1c" stroke-width="1.2"/>
<text x="210.5" y="298.3" text-anchor="middle" class="tk">-6</text>
<text x="132.6" y="309.4" text-anchor="middle" class="xt">log[N,N-DMT] (M)</text>
<text transform="translate(21.3 235.2) rotate(-90)" text-anchor="middle" class="yt">%Effect (of 10µM 5-HT)</text>
</g>
<g>
<line x1="332.2" y1="271.3" x2="501.5" y2="271.3" stroke="#505050" stroke-width="1.35" stroke-dasharray="1.5 1.9"/>
<polyline points="340.3,268.4 342.2,267.9 344.2,267.3 346.1,266.8 348.1,266.1 350.0,265.5 351.9,264.8 353.9,264.1 355.8,263.4 357.8,262.6 359.7,261.8 361.6,260.9 363.6,260.0 365.5,259.1 367.5,258.1 369.4,257.1 371.3,256.1 373.3,255.0 375.2,253.9 377.2,252.8 379.1,251.6 381.0,250.4 383.0,249.2 384.9,248.0 386.9,246.7 388.8,245.4 390.7,244.1 392.7,242.8 394.6,241.4 396.6,240.1 398.5,238.7 400.4,237.3 402.4,236.0 404.3,234.6 406.3,233.2 408.2,231.9 410.1,230.6 412.1,229.2 414.0,227.9 416.0,226.6 417.9,225.4 419.8,224.1 421.8,222.9 423.7,221.7 425.7,220.6 427.6,219.5 429.5,218.4 431.5,217.3 433.4,216.3 435.4,215.3 437.3,214.4 439.2,213.5 441.2,212.6 443.1,211.7 445.1,210.9 447.0,210.2 448.9,209.4 450.9,208.7 452.8,208.1 454.8,207.4 456.7,206.8 458.6,206.3 460.6,205.7 462.5,205.2 464.5,204.7 466.4,204.2 468.3,203.8 470.3,203.4 472.2,203.0 474.2,202.6 476.1,202.3 478.0,202.0 480.0,201.7 481.9,201.4 483.9,201.1 485.8,200.8 487.7,200.6 489.7,200.4 491.6,200.2 493.6,200.0 495.5,199.8" fill="none" stroke="#ff0808" stroke-width="1.5" stroke-linejoin="round"/>
<path d="M359.7 254.8V266.3M356.3 254.8h6.8M356.3 266.3h6.8" stroke="#ff0808" stroke-width="1.1" fill="none"/>
<path d="M379.1 234.6V269.1M375.7 234.6h6.8M375.7 269.1h6.8" stroke="#ff0808" stroke-width="1.1" fill="none"/>
<path d="M398.5 215.2V262.7M395.1 215.2h6.8M395.1 262.7h6.8" stroke="#ff0808" stroke-width="1.1" fill="none"/>
<path d="M417.9 203.7V249.7M414.5 203.7h6.8M414.5 249.7h6.8" stroke="#ff0808" stroke-width="1.1" fill="none"/>
<path d="M437.3 208.7V215.9M433.9 208.7h6.8M433.9 215.9h6.8" stroke="#ff0808" stroke-width="1.1" fill="none"/>
<path d="M456.7 202.3V209.5M453.3 202.3h6.8M453.3 209.5h6.8" stroke="#ff0808" stroke-width="1.1" fill="none"/>
<path d="M476.1 203.7V208.0M472.7 203.7h6.8M472.7 208.0h6.8" stroke="#ff0808" stroke-width="1.1" fill="none"/>
<circle cx="340.3" cy="269.1" r="3.4" fill="#ff0808"/>
<circle cx="359.7" cy="260.5" r="3.4" fill="#ff0808"/>
<circle cx="379.1" cy="251.9" r="3.4" fill="#ff0808"/>
<circle cx="398.5" cy="238.9" r="3.4" fill="#ff0808"/>
<circle cx="417.9" cy="226.7" r="3.4" fill="#ff0808"/>
<circle cx="437.3" cy="212.3" r="3.4" fill="#ff0808"/>
<circle cx="456.7" cy="205.9" r="3.4" fill="#ff0808"/>
<circle cx="476.1" cy="205.9" r="3.4" fill="#ff0808"/>
<circle cx="495.5" cy="197.9" r="3.4" fill="#ff0808"/>
<polyline points="340.3,272.5 342.2,272.5 344.2,272.4 346.1,272.4 348.1,272.3 350.0,272.2 351.9,272.2 353.9,272.1 355.8,272.0 357.8,272.0 359.7,271.9 361.6,271.8 363.6,271.7 365.5,271.5 367.5,271.4 369.4,271.3 371.3,271.1 373.3,271.0 375.2,270.8 377.2,270.6 379.1,270.4 381.0,270.1 383.0,269.9 384.9,269.6 386.9,269.3 388.8,269.0 390.7,268.6 392.7,268.3 394.6,267.8 396.6,267.4 398.5,266.9 400.4,266.4 402.4,265.9 404.3,265.3 406.3,264.7 408.2,264.0 410.1,263.3 412.1,262.6 414.0,261.8 416.0,260.9 417.9,260.0 419.8,259.1 421.8,258.1 423.7,257.1 425.7,256.0 427.6,254.9 429.5,253.8 431.5,252.6 433.4,251.4 435.4,250.2 437.3,248.9 439.2,247.7 441.2,246.4 443.1,245.1 445.1,243.8 447.0,242.5 448.9,241.2 450.9,239.9 452.8,238.6 454.8,237.4 456.7,236.2 458.6,235.0 460.6,233.9 462.5,232.7 464.5,231.7 466.4,230.6 468.3,229.7 470.3,228.7 472.2,227.8 474.2,227.0 476.1,226.2 478.0,225.4 480.0,224.7 481.9,224.0 483.9,223.4 485.8,222.8 487.7,222.3 489.7,221.7 491.6,221.3 493.6,220.8 495.5,220.4" fill="none" stroke="#05820f" stroke-width="1.5" stroke-linejoin="round"/>
<path d="M417.9 251.2V265.5M414.5 251.2h6.8M414.5 265.5h6.8" stroke="#05820f" stroke-width="1.1" fill="none"/>
<path d="M437.3 242.5V258.4M433.9 242.5h6.8M433.9 258.4h6.8" stroke="#05820f" stroke-width="1.1" fill="none"/>
<path d="M456.7 231.7V240.4M453.3 231.7h6.8M453.3 240.4h6.8" stroke="#05820f" stroke-width="1.1" fill="none"/>
<circle cx="340.3" cy="272.0" r="3.4" fill="#05820f"/>
<circle cx="359.7" cy="272.0" r="3.4" fill="#05820f"/>
<circle cx="379.1" cy="271.3" r="3.4" fill="#05820f"/>
<circle cx="398.5" cy="267.0" r="3.4" fill="#05820f"/>
<circle cx="417.9" cy="258.4" r="3.4" fill="#05820f"/>
<circle cx="437.3" cy="250.4" r="3.4" fill="#05820f"/>
<circle cx="456.7" cy="236.1" r="3.4" fill="#05820f"/>
<circle cx="476.1" cy="225.3" r="3.4" fill="#05820f"/>
<circle cx="495.5" cy="221.0" r="3.4" fill="#05820f"/>
<polyline points="340.3,268.2 342.2,267.8 344.2,267.3 346.1,266.7 348.1,266.2 350.0,265.6 351.9,265.0 353.9,264.3 355.8,263.6 357.8,262.9 359.7,262.1 361.6,261.3 363.6,260.4 365.5,259.5 367.5,258.6 369.4,257.6 371.3,256.6 373.3,255.6 375.2,254.5 377.2,253.4 379.1,252.2 381.0,251.0 383.0,249.8 384.9,248.6 386.9,247.3 388.8,246.0 390.7,244.7 392.7,243.4 394.6,242.0 396.6,240.7 398.5,239.3 400.4,238.0 402.4,236.6 404.3,235.3 406.3,234.0 408.2,232.6 410.1,231.3 412.1,230.1 414.0,228.8 416.0,227.6 417.9,226.4 419.8,225.2 421.8,224.1 423.7,223.0 425.7,222.0 427.6,221.0 429.5,220.0 431.5,219.0 433.4,218.2 435.4,217.3 437.3,216.5 439.2,215.7 441.2,215.0 443.1,214.2 445.1,213.6 447.0,212.9 448.9,212.3 450.9,211.8 452.8,211.3 454.8,210.7 456.7,210.3 458.6,209.8 460.6,209.4 462.5,209.0 464.5,208.7 466.4,208.3 468.3,208.0 470.3,207.7 472.2,207.4 474.2,207.1 476.1,206.9 478.0,206.7 480.0,206.5 481.9,206.3 483.9,206.1 485.8,205.9 487.7,205.7 489.7,205.6 491.6,205.4 493.6,205.3 495.5,205.2" fill="none" stroke="#0808c8" stroke-width="1.5" stroke-linejoin="round"/>
<path d="M359.7 250.4V264.8M356.3 250.4h6.8M356.3 264.8h6.8" stroke="#0808c8" stroke-width="1.1" fill="none"/>
<path d="M379.1 246.1V263.4M375.7 246.1h6.8M375.7 263.4h6.8" stroke="#0808c8" stroke-width="1.1" fill="none"/>
<path d="M398.5 223.1V253.3M395.1 223.1h6.8M395.1 253.3h6.8" stroke="#0808c8" stroke-width="1.1" fill="none"/>
<path d="M417.9 215.2V242.5M414.5 215.2h6.8M414.5 242.5h6.8" stroke="#0808c8" stroke-width="1.1" fill="none"/>
<path d="M437.3 209.5V219.5M433.9 209.5h6.8M433.9 219.5h6.8" stroke="#0808c8" stroke-width="1.1" fill="none"/>
<path d="M456.7 202.3V216.6M453.3 202.3h6.8M453.3 216.6h6.8" stroke="#0808c8" stroke-width="1.1" fill="none"/>
<path d="M476.1 203.7V209.5M472.7 203.7h6.8M472.7 209.5h6.8" stroke="#0808c8" stroke-width="1.1" fill="none"/>
<path d="M495.5 199.4V213.8M492.1 199.4h6.8M492.1 213.8h6.8" stroke="#0808c8" stroke-width="1.1" fill="none"/>
<circle cx="340.3" cy="270.6" r="3.4" fill="#0808c8"/>
<circle cx="359.7" cy="257.6" r="3.4" fill="#0808c8"/>
<circle cx="379.1" cy="254.8" r="3.4" fill="#0808c8"/>
<circle cx="398.5" cy="238.2" r="3.4" fill="#0808c8"/>
<circle cx="417.9" cy="228.9" r="3.4" fill="#0808c8"/>
<circle cx="437.3" cy="214.5" r="3.4" fill="#0808c8"/>
<circle cx="456.7" cy="209.5" r="3.4" fill="#0808c8"/>
<circle cx="476.1" cy="206.6" r="3.4" fill="#0808c8"/>
<circle cx="495.5" cy="206.6" r="3.4" fill="#0808c8"/>
<path d="M332.5 184.4V285.4H503.5" stroke="#1c1c1c" stroke-width="1.2" fill="none"/>
<line x1="327.5" y1="285.4" x2="332.5" y2="285.4" stroke="#1c1c1c" stroke-width="1.2"/>
<text x="326.7" y="288.3" text-anchor="end" class="tk">-20</text>
<line x1="327.5" y1="271.3" x2="332.5" y2="271.3" stroke="#1c1c1c" stroke-width="1.2"/>
<text x="326.7" y="274.2" text-anchor="end" class="tk">0</text>
<line x1="327.5" y1="256.9" x2="332.5" y2="256.9" stroke="#1c1c1c" stroke-width="1.2"/>
<text x="326.7" y="259.8" text-anchor="end" class="tk">20</text>
<line x1="327.5" y1="242.5" x2="332.5" y2="242.5" stroke="#1c1c1c" stroke-width="1.2"/>
<text x="326.7" y="245.4" text-anchor="end" class="tk">40</text>
<line x1="327.5" y1="228.1" x2="332.5" y2="228.1" stroke="#1c1c1c" stroke-width="1.2"/>
<text x="326.7" y="231.0" text-anchor="end" class="tk">60</text>
<line x1="327.5" y1="213.8" x2="332.5" y2="213.8" stroke="#1c1c1c" stroke-width="1.2"/>
<text x="326.7" y="216.7" text-anchor="end" class="tk">80</text>
<line x1="327.5" y1="199.4" x2="332.5" y2="199.4" stroke="#1c1c1c" stroke-width="1.2"/>
<text x="326.7" y="202.3" text-anchor="end" class="tk">100</text>
<line x1="327.5" y1="185.0" x2="332.5" y2="185.0" stroke="#1c1c1c" stroke-width="1.2"/>
<text x="326.7" y="187.9" text-anchor="end" class="tk">120</text>
<line x1="340.3" y1="285.4" x2="340.3" y2="290.4" stroke="#1c1c1c" stroke-width="1.2"/>
<text x="340.6" y="298.3" text-anchor="middle" class="tk">-10</text>
<line x1="379.1" y1="285.4" x2="379.1" y2="290.4" stroke="#1c1c1c" stroke-width="1.2"/>
<text x="379.4" y="298.3" text-anchor="middle" class="tk">-9</text>
<line x1="417.9" y1="285.4" x2="417.9" y2="290.4" stroke="#1c1c1c" stroke-width="1.2"/>
<text x="418.2" y="298.3" text-anchor="middle" class="tk">-8</text>
<line x1="456.7" y1="285.4" x2="456.7" y2="290.4" stroke="#1c1c1c" stroke-width="1.2"/>
<text x="457.0" y="298.3" text-anchor="middle" class="tk">-7</text>
<line x1="495.5" y1="285.4" x2="495.5" y2="290.4" stroke="#1c1c1c" stroke-width="1.2"/>
<text x="495.8" y="298.3" text-anchor="middle" class="tk">-6</text>
<text x="417.9" y="309.4" text-anchor="middle" class="xt">log[Pergolide] (M)</text>
<text transform="translate(306.6 235.2) rotate(-90)" text-anchor="middle" class="yt">%Effect (of 10µM 5-HT)</text>
</g>
<g>
<line x1="623.7" y1="271.3" x2="793.0" y2="271.3" stroke="#505050" stroke-width="1.35" stroke-dasharray="1.5 1.9"/>
<polyline points="631.8,272.5 633.7,272.4 635.7,272.4 637.6,272.3 639.6,272.2 641.5,272.1 643.4,272.0 645.4,271.9 647.3,271.8 649.3,271.7 651.2,271.6 653.1,271.4 655.1,271.3 657.0,271.1 659.0,270.9 660.9,270.7 662.8,270.5 664.8,270.3 666.7,270.0 668.7,269.7 670.6,269.4 672.5,269.0 674.5,268.7 676.4,268.3 678.4,267.8 680.3,267.4 682.2,266.8 684.2,266.3 686.1,265.7 688.1,265.0 690.0,264.4 691.9,263.6 693.9,262.8 695.8,262.0 697.8,261.1 699.7,260.1 701.6,259.1 703.6,258.0 705.5,256.8 707.5,255.6 709.4,254.3 711.3,253.0 713.3,251.6 715.2,250.2 717.2,248.7 719.1,247.1 721.0,245.5 723.0,243.9 724.9,242.2 726.9,240.5 728.8,238.8 730.7,237.1 732.7,235.4 734.6,233.7 736.6,231.9 738.5,230.2 740.4,228.6 742.4,226.9 744.3,225.3 746.3,223.8 748.2,222.2 750.1,220.8 752.1,219.4 754.0,218.0 756.0,216.7 757.9,215.5 759.8,214.3 761.8,213.2 763.7,212.2 765.7,211.2 767.6,210.2 769.5,209.4 771.5,208.5 773.4,207.8 775.4,207.1 777.3,206.4 779.2,205.8 781.2,205.2 783.1,204.7 785.1,204.2 787.0,203.8" fill="none" stroke="#ff0808" stroke-width="1.5" stroke-linejoin="round"/>
<path d="M670.6 265.5V274.1M667.2 265.5h6.8M667.2 274.1h6.8" stroke="#ff0808" stroke-width="1.1" fill="none"/>
<path d="M690.0 262.0V272.0M686.6 262.0h6.8M686.6 272.0h6.8" stroke="#ff0808" stroke-width="1.1" fill="none"/>
<path d="M709.4 243.3V269.1M706.0 243.3h6.8M706.0 269.1h6.8" stroke="#ff0808" stroke-width="1.1" fill="none"/>
<path d="M728.8 225.3V241.1M725.4 225.3h6.8M725.4 241.1h6.8" stroke="#ff0808" stroke-width="1.1" fill="none"/>
<path d="M748.2 217.4V231.7M744.8 217.4h6.8M744.8 231.7h6.8" stroke="#ff0808" stroke-width="1.1" fill="none"/>
<path d="M767.6 210.2V217.4M764.2 210.2h6.8M764.2 217.4h6.8" stroke="#ff0808" stroke-width="1.1" fill="none"/>
<circle cx="631.8" cy="270.6" r="3.4" fill="#ff0808"/>
<circle cx="651.2" cy="271.3" r="3.4" fill="#ff0808"/>
<circle cx="670.6" cy="269.9" r="3.4" fill="#ff0808"/>
<circle cx="690.0" cy="267.0" r="3.4" fill="#ff0808"/>
<circle cx="709.4" cy="256.2" r="3.4" fill="#ff0808"/>
<circle cx="728.8" cy="233.2" r="3.4" fill="#ff0808"/>
<circle cx="748.2" cy="224.6" r="3.4" fill="#ff0808"/>
<circle cx="767.6" cy="213.8" r="3.4" fill="#ff0808"/>
<circle cx="787.0" cy="200.8" r="3.4" fill="#ff0808"/>
<polyline points="631.8,272.1 633.7,272.1 635.7,272.1 637.6,272.1 639.6,272.1 641.5,272.1 643.4,272.1 645.4,272.1 647.3,272.1 649.3,272.1 651.2,272.1 653.1,272.1 655.1,272.1 657.0,272.1 659.0,272.1 660.9,272.1 662.8,272.1 664.8,272.1 666.7,272.1 668.7,272.1 670.6,272.1 672.5,272.1 674.5,272.1 676.4,272.1 678.4,272.1 680.3,272.1 682.2,272.1 684.2,272.1 686.1,272.1 688.1,272.1 690.0,272.1 691.9,272.1 693.9,272.1 695.8,272.1 697.8,272.1 699.7,272.1 701.6,272.1 703.6,272.1 705.5,272.1 707.5,272.1 709.4,272.1 711.3,272.1 713.3,272.1 715.2,272.1 717.2,272.1 719.1,272.1 721.0,272.1 723.0,272.1 724.9,272.1 726.9,272.1 728.8,272.1 730.7,272.1 732.7,272.1 734.6,272.1 736.6,272.1 738.5,272.1 740.4,272.1 742.4,272.1 744.3,272.1 746.3,272.0 748.2,272.0 750.1,272.0 752.1,271.9 754.0,271.8 756.0,271.7 757.9,271.6 759.8,271.4 761.8,271.1 763.7,270.8 765.7,270.4 767.6,269.9 769.5,269.2 771.5,268.3 773.4,267.3 775.4,266.2 777.3,264.8 779.2,263.4 781.2,261.9 783.1,260.4 785.1,258.9 787.0,257.6" fill="none" stroke="#05820f" stroke-width="1.5" stroke-linejoin="round"/>
<path d="M631.8 264.8V276.2M628.4 264.8h6.8M628.4 276.2h6.8" stroke="#05820f" stroke-width="1.1" fill="none"/>
<path d="M709.4 270.6V274.8M706.0 270.6h6.8M706.0 274.8h6.8" stroke="#05820f" stroke-width="1.1" fill="none"/>
<path d="M767.6 266.3V273.4M764.2 266.3h6.8M764.2 273.4h6.8" stroke="#05820f" stroke-width="1.1" fill="none"/>
<circle cx="631.8" cy="270.6" r="3.4" fill="#05820f"/>
<circle cx="651.2" cy="272.0" r="3.4" fill="#05820f"/>
<circle cx="670.6" cy="272.7" r="3.4" fill="#05820f"/>
<circle cx="690.0" cy="272.7" r="3.4" fill="#05820f"/>
<circle cx="709.4" cy="272.7" r="3.4" fill="#05820f"/>
<circle cx="728.8" cy="272.0" r="3.4" fill="#05820f"/>
<circle cx="748.2" cy="272.0" r="3.4" fill="#05820f"/>
<circle cx="767.6" cy="269.9" r="3.4" fill="#05820f"/>
<circle cx="787.0" cy="257.6" r="3.4" fill="#05820f"/>
<polyline points="631.8,271.2 633.7,271.2 635.7,271.2 637.6,271.2 639.6,271.2 641.5,271.2 643.4,271.2 645.4,271.2 647.3,271.2 649.3,271.2 651.2,271.2 653.1,271.2 655.1,271.2 657.0,271.1 659.0,271.1 660.9,271.1 662.8,271.1 664.8,271.1 666.7,271.1 668.7,271.1 670.6,271.1 672.5,271.0 674.5,271.0 676.4,271.0 678.4,270.9 680.3,270.9 682.2,270.9 684.2,270.8 686.1,270.7 688.1,270.7 690.0,270.6 691.9,270.5 693.9,270.4 695.8,270.3 697.8,270.1 699.7,270.0 701.6,269.8 703.6,269.6 705.5,269.3 707.5,269.1 709.4,268.7 711.3,268.4 713.3,268.0 715.2,267.5 717.2,267.0 719.1,266.4 721.0,265.7 723.0,265.0 724.9,264.2 726.9,263.2 728.8,262.2 730.7,261.1 732.7,259.9 734.6,258.5 736.6,257.1 738.5,255.5 740.4,253.9 742.4,252.1 744.3,250.3 746.3,248.4 748.2,246.5 750.1,244.5 752.1,242.6 754.0,240.6 756.0,238.7 757.9,236.8 759.8,234.9 761.8,233.2 763.7,231.5 765.7,230.0 767.6,228.5 769.5,227.1 771.5,225.9 773.4,224.8 775.4,223.7 777.3,222.8 779.2,222.0 781.2,221.2 783.1,220.5 785.1,219.9 787.0,219.4" fill="none" stroke="#0808c8" stroke-width="1.5" stroke-linejoin="round"/>
<path d="M709.4 262.0V273.4M706.0 262.0h6.8M706.0 273.4h6.8" stroke="#0808c8" stroke-width="1.1" fill="none"/>
<path d="M728.8 253.3V269.1M725.4 253.3h6.8M725.4 269.1h6.8" stroke="#0808c8" stroke-width="1.1" fill="none"/>
<path d="M748.2 242.5V254.0M744.8 242.5h6.8M744.8 254.0h6.8" stroke="#0808c8" stroke-width="1.1" fill="none"/>
<path d="M767.6 217.4V236.1M764.2 217.4h6.8M764.2 236.1h6.8" stroke="#0808c8" stroke-width="1.1" fill="none"/>
<path d="M787.0 212.3V228.1M783.6 212.3h6.8M783.6 228.1h6.8" stroke="#0808c8" stroke-width="1.1" fill="none"/>
<circle cx="631.8" cy="271.3" r="3.4" fill="#0808c8"/>
<circle cx="651.2" cy="271.3" r="3.4" fill="#0808c8"/>
<circle cx="670.6" cy="272.0" r="3.4" fill="#0808c8"/>
<circle cx="690.0" cy="270.6" r="3.4" fill="#0808c8"/>
<circle cx="709.4" cy="267.7" r="3.4" fill="#0808c8"/>
<circle cx="728.8" cy="261.2" r="3.4" fill="#0808c8"/>
<circle cx="748.2" cy="248.3" r="3.4" fill="#0808c8"/>
<circle cx="767.6" cy="226.7" r="3.4" fill="#0808c8"/>
<circle cx="787.0" cy="220.2" r="3.4" fill="#0808c8"/>
<path d="M624.0 184.4V285.4H795.0" stroke="#1c1c1c" stroke-width="1.2" fill="none"/>
<line x1="619.0" y1="285.4" x2="624.0" y2="285.4" stroke="#1c1c1c" stroke-width="1.2"/>
<text x="618.2" y="288.3" text-anchor="end" class="tk">-20</text>
<line x1="619.0" y1="271.3" x2="624.0" y2="271.3" stroke="#1c1c1c" stroke-width="1.2"/>
<text x="618.2" y="274.2" text-anchor="end" class="tk">0</text>
<line x1="619.0" y1="256.9" x2="624.0" y2="256.9" stroke="#1c1c1c" stroke-width="1.2"/>
<text x="618.2" y="259.8" text-anchor="end" class="tk">20</text>
<line x1="619.0" y1="242.5" x2="624.0" y2="242.5" stroke="#1c1c1c" stroke-width="1.2"/>
<text x="618.2" y="245.4" text-anchor="end" class="tk">40</text>
<line x1="619.0" y1="228.1" x2="624.0" y2="228.1" stroke="#1c1c1c" stroke-width="1.2"/>
<text x="618.2" y="231.0" text-anchor="end" class="tk">60</text>
<line x1="619.0" y1="213.8" x2="624.0" y2="213.8" stroke="#1c1c1c" stroke-width="1.2"/>
<text x="618.2" y="216.7" text-anchor="end" class="tk">80</text>
<line x1="619.0" y1="199.4" x2="624.0" y2="199.4" stroke="#1c1c1c" stroke-width="1.2"/>
<text x="618.2" y="202.3" text-anchor="end" class="tk">100</text>
<line x1="619.0" y1="185.0" x2="624.0" y2="185.0" stroke="#1c1c1c" stroke-width="1.2"/>
<text x="618.2" y="187.9" text-anchor="end" class="tk">120</text>
<line x1="631.8" y1="285.4" x2="631.8" y2="290.4" stroke="#1c1c1c" stroke-width="1.2"/>
<text x="632.1" y="298.3" text-anchor="middle" class="tk">-10</text>
<line x1="670.6" y1="285.4" x2="670.6" y2="290.4" stroke="#1c1c1c" stroke-width="1.2"/>
<text x="670.9" y="298.3" text-anchor="middle" class="tk">-9</text>
<line x1="709.4" y1="285.4" x2="709.4" y2="290.4" stroke="#1c1c1c" stroke-width="1.2"/>
<text x="709.7" y="298.3" text-anchor="middle" class="tk">-8</text>
<line x1="748.2" y1="285.4" x2="748.2" y2="290.4" stroke="#1c1c1c" stroke-width="1.2"/>
<text x="748.5" y="298.3" text-anchor="middle" class="tk">-7</text>
<line x1="787.0" y1="285.4" x2="787.0" y2="290.4" stroke="#1c1c1c" stroke-width="1.2"/>
<text x="787.3" y="298.3" text-anchor="middle" class="tk">-6</text>
<text x="709.4" y="309.4" text-anchor="middle" class="xt">log[Norfenfluramine] (M)</text>
<text transform="translate(598.1 235.2) rotate(-90)" text-anchor="middle" class="yt">%Effect (of 10µM 5-HT)</text>
</g>
<g>
<line x1="46.9" y1="415.5" x2="216.2" y2="415.5" stroke="#505050" stroke-width="1.35" stroke-dasharray="1.5 1.9"/>
<polyline points="55.0,409.0 56.9,408.4 58.9,407.8 60.8,407.2 62.8,406.5 64.7,405.8 66.6,405.1 68.6,404.3 70.5,403.6 72.5,402.8 74.4,401.9 76.3,401.1 78.3,400.2 80.2,399.3 82.2,398.3 84.1,397.4 86.0,396.4 88.0,395.4 89.9,394.3 91.9,393.3 93.8,392.2 95.7,391.1 97.7,390.0 99.6,388.8 101.6,387.7 103.5,386.5 105.4,385.3 107.4,384.1 109.3,382.9 111.3,381.7 113.2,380.5 115.1,379.3 117.1,378.1 119.0,376.9 121.0,375.7 122.9,374.5 124.8,373.3 126.8,372.1 128.7,370.9 130.7,369.7 132.6,368.6 134.5,367.4 136.5,366.3 138.4,365.2 140.4,364.1 142.3,363.1 144.2,362.1 146.2,361.1 148.1,360.1 150.1,359.1 152.0,358.2 153.9,357.3 155.9,356.4 157.8,355.5 159.8,354.7 161.7,353.9 163.6,353.2 165.6,352.4 167.5,351.7 169.5,351.0 171.4,350.3 173.3,349.7 175.3,349.1 177.2,348.5 179.2,348.0 181.1,347.4 183.0,346.9 185.0,346.4 186.9,345.9 188.9,345.5 190.8,345.1 192.7,344.6 194.7,344.3 196.6,343.9 198.6,343.5 200.5,343.2 202.4,342.9 204.4,342.6 206.3,342.3 208.3,342.0 210.2,341.7" fill="none" stroke="#ff0808" stroke-width="1.5" stroke-linejoin="round"/>
<path d="M55.0 409.7V414.1M51.6 409.7h6.8M51.6 414.1h6.8" stroke="#ff0808" stroke-width="1.1" fill="none"/>
<path d="M74.4 388.9V406.2M71.0 388.9h6.8M71.0 406.2h6.8" stroke="#ff0808" stroke-width="1.1" fill="none"/>
<path d="M93.8 370.2V413.3M90.4 370.2h6.8M90.4 413.3h6.8" stroke="#ff0808" stroke-width="1.1" fill="none"/>
<path d="M113.2 351.5V411.9M109.8 351.5h6.8M109.8 411.9h6.8" stroke="#ff0808" stroke-width="1.1" fill="none"/>
<path d="M132.6 340.0V407.6M129.2 340.0h6.8M129.2 407.6h6.8" stroke="#ff0808" stroke-width="1.1" fill="none"/>
<path d="M152.0 348.6V355.8M148.6 348.6h6.8M148.6 355.8h6.8" stroke="#ff0808" stroke-width="1.1" fill="none"/>
<path d="M171.4 347.9V355.1M168.0 347.9h6.8M168.0 355.1h6.8" stroke="#ff0808" stroke-width="1.1" fill="none"/>
<path d="M190.8 340.0V347.2M187.4 340.0h6.8M187.4 347.2h6.8" stroke="#ff0808" stroke-width="1.1" fill="none"/>
<path d="M210.2 339.3V347.9M206.8 339.3h6.8M206.8 347.9h6.8" stroke="#ff0808" stroke-width="1.1" fill="none"/>
<circle cx="55.0" cy="411.9" r="3.4" fill="#ff0808"/>
<circle cx="74.4" cy="397.5" r="3.4" fill="#ff0808"/>
<circle cx="93.8" cy="391.8" r="3.4" fill="#ff0808"/>
<circle cx="113.2" cy="381.7" r="3.4" fill="#ff0808"/>
<circle cx="132.6" cy="373.8" r="3.4" fill="#ff0808"/>
<circle cx="152.0" cy="352.2" r="3.4" fill="#ff0808"/>
<circle cx="171.4" cy="351.5" r="3.4" fill="#ff0808"/>
<circle cx="190.8" cy="343.6" r="3.4" fill="#ff0808"/>
<circle cx="210.2" cy="343.6" r="3.4" fill="#ff0808"/>
<polyline points="55.0,415.7 56.9,415.7 58.9,415.7 60.8,415.7 62.8,415.6 64.7,415.6 66.6,415.6 68.6,415.6 70.5,415.5 72.5,415.5 74.4,415.4 76.3,415.4 78.3,415.3 80.2,415.2 82.2,415.2 84.1,415.1 86.0,415.0 88.0,414.9 89.9,414.8 91.9,414.7 93.8,414.5 95.7,414.4 97.7,414.2 99.6,414.1 101.6,413.9 103.5,413.6 105.4,413.4 107.4,413.1 109.3,412.8 111.3,412.5 113.2,412.2 115.1,411.8 117.1,411.4 119.0,410.9 121.0,410.4 122.9,409.8 124.8,409.2 126.8,408.6 128.7,407.8 130.7,407.1 132.6,406.2 134.5,405.3 136.5,404.3 138.4,403.3 140.4,402.2 142.3,401.0 144.2,399.7 146.2,398.4 148.1,397.0 150.1,395.5 152.0,393.9 153.9,392.3 155.9,390.6 157.8,388.9 159.8,387.1 161.7,385.3 163.6,383.4 165.6,381.5 167.5,379.7 169.5,377.8 171.4,375.9 173.3,374.1 175.3,372.3 177.2,370.5 179.2,368.8 181.1,367.1 183.0,365.5 185.0,363.9 186.9,362.4 188.9,361.0 190.8,359.7 192.7,358.4 194.7,357.2 196.6,356.1 198.6,355.1 200.5,354.1 202.4,353.2 204.4,352.4 206.3,351.6 208.3,350.9 210.2,350.3" fill="none" stroke="#05820f" stroke-width="1.5" stroke-linejoin="round"/>
<path d="M74.4 411.2V418.3M71.0 411.2h6.8M71.0 418.3h6.8" stroke="#05820f" stroke-width="1.1" fill="none"/>
<path d="M113.2 406.9V416.9M109.8 406.9h6.8M109.8 416.9h6.8" stroke="#05820f" stroke-width="1.1" fill="none"/>
<path d="M132.6 394.6V411.9M129.2 394.6h6.8M129.2 411.9h6.8" stroke="#05820f" stroke-width="1.1" fill="none"/>
<path d="M152.0 388.2V402.6M148.6 388.2h6.8M148.6 402.6h6.8" stroke="#05820f" stroke-width="1.1" fill="none"/>
<path d="M171.4 372.4V383.9M168.0 372.4h6.8M168.0 383.9h6.8" stroke="#05820f" stroke-width="1.1" fill="none"/>
<path d="M190.8 352.9V358.7M187.4 352.9h6.8M187.4 358.7h6.8" stroke="#05820f" stroke-width="1.1" fill="none"/>
<path d="M210.2 348.6V355.8M206.8 348.6h6.8M206.8 355.8h6.8" stroke="#05820f" stroke-width="1.1" fill="none"/>
<circle cx="55.0" cy="416.9" r="3.4" fill="#05820f"/>
<circle cx="74.4" cy="414.8" r="3.4" fill="#05820f"/>
<circle cx="93.8" cy="415.5" r="3.4" fill="#05820f"/>
<circle cx="113.2" cy="411.9" r="3.4" fill="#05820f"/>
<circle cx="132.6" cy="403.3" r="3.4" fill="#05820f"/>
<circle cx="152.0" cy="395.4" r="3.4" fill="#05820f"/>
<circle cx="171.4" cy="378.1" r="3.4" fill="#05820f"/>
<circle cx="190.8" cy="355.8" r="3.4" fill="#05820f"/>
<circle cx="210.2" cy="352.2" r="3.4" fill="#05820f"/>
<polyline points="55.0,409.0 56.9,408.9 58.9,408.7 60.8,408.6 62.8,408.4 64.7,408.2 66.6,407.9 68.6,407.7 70.5,407.4 72.5,407.1 74.4,406.8 76.3,406.4 78.3,406.0 80.2,405.6 82.2,405.1 84.1,404.6 86.0,404.1 88.0,403.5 89.9,402.9 91.9,402.2 93.8,401.4 95.7,400.6 97.7,399.8 99.6,398.9 101.6,397.9 103.5,396.9 105.4,395.8 107.4,394.7 109.3,393.5 111.3,392.2 113.2,390.9 115.1,389.6 117.1,388.2 119.0,386.8 121.0,385.3 122.9,383.8 124.8,382.3 126.8,380.8 128.7,379.2 130.7,377.7 132.6,376.2 134.5,374.7 136.5,373.2 138.4,371.8 140.4,370.3 142.3,369.0 144.2,367.6 146.2,366.4 148.1,365.1 150.1,364.0 152.0,362.9 153.9,361.8 155.9,360.8 157.8,359.9 159.8,359.0 161.7,358.2 163.6,357.4 165.6,356.7 167.5,356.0 169.5,355.4 171.4,354.9 173.3,354.3 175.3,353.8 177.2,353.4 179.2,353.0 181.1,352.6 183.0,352.3 185.0,351.9 186.9,351.7 188.9,351.4 190.8,351.2 192.7,350.9 194.7,350.7 196.6,350.5 198.6,350.4 200.5,350.2 202.4,350.1 204.4,350.0 206.3,349.9 208.3,349.7 210.2,349.7" fill="none" stroke="#0808c8" stroke-width="1.5" stroke-linejoin="round"/>
<path d="M74.4 390.3V411.9M71.0 390.3h6.8M71.0 411.9h6.8" stroke="#0808c8" stroke-width="1.1" fill="none"/>
<path d="M93.8 391.8V411.9M90.4 391.8h6.8M90.4 411.9h6.8" stroke="#0808c8" stroke-width="1.1" fill="none"/>
<path d="M113.2 370.9V406.9M109.8 370.9h6.8M109.8 406.9h6.8" stroke="#0808c8" stroke-width="1.1" fill="none"/>
<path d="M132.6 355.1V408.3M129.2 355.1h6.8M129.2 408.3h6.8" stroke="#0808c8" stroke-width="1.1" fill="none"/>
<path d="M152.0 345.0V373.8M148.6 345.0h6.8M148.6 373.8h6.8" stroke="#0808c8" stroke-width="1.1" fill="none"/>
<path d="M171.4 345.0V360.8M168.0 345.0h6.8M168.0 360.8h6.8" stroke="#0808c8" stroke-width="1.1" fill="none"/>
<path d="M190.8 347.2V354.4M187.4 347.2h6.8M187.4 354.4h6.8" stroke="#0808c8" stroke-width="1.1" fill="none"/>
<path d="M210.2 346.5V358.0M206.8 346.5h6.8M206.8 358.0h6.8" stroke="#0808c8" stroke-width="1.1" fill="none"/>
<circle cx="55.0" cy="414.1" r="3.4" fill="#0808c8"/>
<circle cx="74.4" cy="401.1" r="3.4" fill="#0808c8"/>
<circle cx="93.8" cy="401.8" r="3.4" fill="#0808c8"/>
<circle cx="113.2" cy="388.9" r="3.4" fill="#0808c8"/>
<circle cx="132.6" cy="381.7" r="3.4" fill="#0808c8"/>
<circle cx="152.0" cy="359.4" r="3.4" fill="#0808c8"/>
<circle cx="171.4" cy="352.9" r="3.4" fill="#0808c8"/>
<circle cx="190.8" cy="350.8" r="3.4" fill="#0808c8"/>
<circle cx="210.2" cy="352.2" r="3.4" fill="#0808c8"/>
<path d="M47.2 328.6V429.6H218.2" stroke="#1c1c1c" stroke-width="1.2" fill="none"/>
<line x1="42.2" y1="429.6" x2="47.2" y2="429.6" stroke="#1c1c1c" stroke-width="1.2"/>
<text x="41.4" y="432.5" text-anchor="end" class="tk">-20</text>
<line x1="42.2" y1="415.5" x2="47.2" y2="415.5" stroke="#1c1c1c" stroke-width="1.2"/>
<text x="41.4" y="418.4" text-anchor="end" class="tk">0</text>
<line x1="42.2" y1="401.1" x2="47.2" y2="401.1" stroke="#1c1c1c" stroke-width="1.2"/>
<text x="41.4" y="404.0" text-anchor="end" class="tk">20</text>
<line x1="42.2" y1="386.7" x2="47.2" y2="386.7" stroke="#1c1c1c" stroke-width="1.2"/>
<text x="41.4" y="389.6" text-anchor="end" class="tk">40</text>
<line x1="42.2" y1="372.4" x2="47.2" y2="372.4" stroke="#1c1c1c" stroke-width="1.2"/>
<text x="41.4" y="375.2" text-anchor="end" class="tk">60</text>
<line x1="42.2" y1="358.0" x2="47.2" y2="358.0" stroke="#1c1c1c" stroke-width="1.2"/>
<text x="41.4" y="360.9" text-anchor="end" class="tk">80</text>
<line x1="42.2" y1="343.6" x2="47.2" y2="343.6" stroke="#1c1c1c" stroke-width="1.2"/>
<text x="41.4" y="346.5" text-anchor="end" class="tk">100</text>
<line x1="42.2" y1="329.2" x2="47.2" y2="329.2" stroke="#1c1c1c" stroke-width="1.2"/>
<text x="41.4" y="332.1" text-anchor="end" class="tk">120</text>
<line x1="55.0" y1="429.6" x2="55.0" y2="434.6" stroke="#1c1c1c" stroke-width="1.2"/>
<text x="55.3" y="442.5" text-anchor="middle" class="tk">-10</text>
<line x1="93.8" y1="429.6" x2="93.8" y2="434.6" stroke="#1c1c1c" stroke-width="1.2"/>
<text x="94.1" y="442.5" text-anchor="middle" class="tk">-9</text>
<line x1="132.6" y1="429.6" x2="132.6" y2="434.6" stroke="#1c1c1c" stroke-width="1.2"/>
<text x="132.9" y="442.5" text-anchor="middle" class="tk">-8</text>
<line x1="171.4" y1="429.6" x2="171.4" y2="434.6" stroke="#1c1c1c" stroke-width="1.2"/>
<text x="171.7" y="442.5" text-anchor="middle" class="tk">-7</text>
<line x1="210.2" y1="429.6" x2="210.2" y2="434.6" stroke="#1c1c1c" stroke-width="1.2"/>
<text x="210.5" y="442.5" text-anchor="middle" class="tk">-6</text>
<text x="132.6" y="453.6" text-anchor="middle" class="xt">log[Cabergoline] (M)</text>
<text transform="translate(21.3 379.4) rotate(-90)" text-anchor="middle" class="yt">%Effect (of 10µM 5-HT)</text>
</g>
<g>
<rect x="432.4" y="322.2" width="353.3" height="131.9" fill="#6f7983"/>
<rect x="354.0" y="337.20000000000005" width="78.0" height="116.89999999999996" fill="#55606b"/>
<rect x="354.9" y="351.0" width="429.1" height="102.19999999999999" fill="#ffffff"/>
<rect x="432.4" y="322.2" width="351.6" height="14.400000000000034" fill="#dcdcdc"/>
<rect x="432.4" y="336.6" width="351.6" height="14.399999999999977" fill="#ffffff"/>
<rect x="433.7" y="337.8" width="44.200000000000024" height="12.199999999999978" fill="#efefef"/>
<rect x="480.3" y="337.8" width="68.30000000000004" height="12.199999999999978" fill="#efefef"/>
<rect x="551.0" y="337.8" width="44.29999999999993" height="12.199999999999978" fill="#efefef"/>
<rect x="597.6999999999999" y="337.8" width="67.90000000000006" height="12.199999999999978" fill="#efefef"/>
<rect x="668.0" y="337.8" width="44.1" height="12.199999999999978" fill="#efefef"/>
<rect x="714.5" y="337.8" width="68.39999999999995" height="12.199999999999978" fill="#efefef"/>
<rect x="354.4" y="337.3" width="78.0" height="13.699999999999978" fill="#2c3a44"/>
<text x="397.8" y="347.0" textLength="29.6" lengthAdjust="spacingAndGlyphs" class="th" fill="#fff" stroke="#fff">Agonist</text>
<text x="458.9" y="332.4" textLength="64.4" lengthAdjust="spacingAndGlyphs" class="th" fill="#1230e0" stroke="#1230e0">5-HT<tspan dy="1.7" font-size="5.4">2A</tspan><tspan dy="-1.7"> Clone #1</tspan></text>
<text x="443.2" y="347.0" textLength="25.0" lengthAdjust="spacingAndGlyphs" class="th" fill="#1230e0" stroke="#1230e0">pEC50</text>
<text x="495.6" y="347.0" textLength="37.6" lengthAdjust="spacingAndGlyphs" class="th" fill="#1230e0" stroke="#1230e0">Emax (%)</text>
<text x="576.0" y="332.4" textLength="64.4" lengthAdjust="spacingAndGlyphs" class="th" fill="#1a8f1a" stroke="#1a8f1a">5-HT<tspan dy="1.7" font-size="5.4">2A</tspan><tspan dy="-1.7"> Clone #2</tspan></text>
<text x="560.5" y="347.0" textLength="25.0" lengthAdjust="spacingAndGlyphs" class="th" fill="#1a8f1a" stroke="#1a8f1a">pEC50</text>
<text x="612.8" y="347.0" textLength="37.6" lengthAdjust="spacingAndGlyphs" class="th" fill="#1a8f1a" stroke="#1a8f1a">Emax (%)</text>
<text x="693.1" y="332.4" textLength="64.4" lengthAdjust="spacingAndGlyphs" class="th" fill="#d61a46" stroke="#d61a46">5-HT<tspan dy="1.7" font-size="5.4">2A</tspan><tspan dy="-1.7"> Clone #3</tspan></text>
<text x="677.5" y="347.0" textLength="25.0" lengthAdjust="spacingAndGlyphs" class="th" fill="#d61a46" stroke="#d61a46">pEC50</text>
<text x="729.8" y="347.0" textLength="37.6" lengthAdjust="spacingAndGlyphs" class="th" fill="#d61a46" stroke="#d61a46">Emax (%)</text>
<line x1="432.4" y1="336.6" x2="784.0" y2="336.6" stroke="#a9adb2" stroke-width="0.9"/>
<line x1="432.4" y1="322.2" x2="784.0" y2="322.2" stroke="#a9adb2" stroke-width="0.9"/>
<line x1="354.4" y1="365.4" x2="784.0" y2="365.4" stroke="#55606b" stroke-width="0.95"/>
<text x="409.2" y="361.6" textLength="18.2" lengthAdjust="spacingAndGlyphs" class="tn">5-HT</text>
<text x="447.0" y="361.6" textLength="17.3" lengthAdjust="spacingAndGlyphs" class="td">8.42</text>
<text x="487.2" y="361.6" textLength="54.4" lengthAdjust="spacingAndGlyphs" class="td">102.22 ± 3.42</text>
<text x="564.4" y="361.6" textLength="17.3" lengthAdjust="spacingAndGlyphs" class="td">7.34</text>
<text x="604.4" y="361.6" textLength="54.4" lengthAdjust="spacingAndGlyphs" class="td">100.94 ± 2.32</text>
<text x="681.3" y="361.6" textLength="17.3" lengthAdjust="spacingAndGlyphs" class="td">9.01</text>
<text x="721.4" y="361.6" textLength="54.4" lengthAdjust="spacingAndGlyphs" class="td">107.92 ± 1.53</text>
<line x1="354.4" y1="380.4" x2="784.0" y2="380.4" stroke="#55606b" stroke-width="0.95"/>
<text x="382.1" y="376.6" textLength="45.3" lengthAdjust="spacingAndGlyphs" class="tn">Norpsilocin</text>
<text x="447.0" y="376.6" textLength="17.3" lengthAdjust="spacingAndGlyphs" class="td">7.42</text>
<text x="489.6" y="376.6" textLength="49.4" lengthAdjust="spacingAndGlyphs" class="td">71.82 ± 8.01</text>
<text x="571.6" y="376.6" textLength="3.0" lengthAdjust="spacingAndGlyphs" class="td">-</text>
<text x="609.6" y="376.6" textLength="43.8" lengthAdjust="spacingAndGlyphs" class="td">7.40 ± 0.11</text>
<text x="681.3" y="376.6" textLength="17.3" lengthAdjust="spacingAndGlyphs" class="td">7.97</text>
<text x="723.9" y="376.6" textLength="49.4" lengthAdjust="spacingAndGlyphs" class="td">96.34 ± 2.80</text>
<line x1="354.4" y1="395.3" x2="784.0" y2="395.3" stroke="#55606b" stroke-width="0.95"/>
<text x="397.8" y="391.5" textLength="29.6" lengthAdjust="spacingAndGlyphs" class="tn">Psilocin</text>
<text x="447.0" y="391.5" textLength="17.3" lengthAdjust="spacingAndGlyphs" class="td">7.65</text>
<text x="489.6" y="391.5" textLength="49.4" lengthAdjust="spacingAndGlyphs" class="td">60.34 ± 9.50</text>
<text x="571.6" y="391.5" textLength="3.0" lengthAdjust="spacingAndGlyphs" class="td">-</text>
<text x="609.3" y="391.5" textLength="44.5" lengthAdjust="spacingAndGlyphs" class="td">2.19 ± 0.09</text>
<text x="681.3" y="391.5" textLength="17.3" lengthAdjust="spacingAndGlyphs" class="td">8.01</text>
<text x="723.9" y="391.5" textLength="49.4" lengthAdjust="spacingAndGlyphs" class="td">79.25 ± 1.09</text>
<line x1="354.4" y1="409.6" x2="784.0" y2="409.6" stroke="#55606b" stroke-width="0.95"/>
<text x="390.5" y="405.8" textLength="36.9" lengthAdjust="spacingAndGlyphs" class="tn">N,N-DMT</text>
<text x="447.0" y="405.8" textLength="17.3" lengthAdjust="spacingAndGlyphs" class="td">7.42</text>
<text x="489.6" y="405.8" textLength="49.4" lengthAdjust="spacingAndGlyphs" class="td">63.02 ± 8.61</text>
<text x="571.6" y="405.8" textLength="3.0" lengthAdjust="spacingAndGlyphs" class="td">-</text>
<text x="609.3" y="405.8" textLength="44.5" lengthAdjust="spacingAndGlyphs" class="td">2.22 ± 2.18</text>
<text x="681.3" y="405.8" textLength="17.3" lengthAdjust="spacingAndGlyphs" class="td">7.92</text>
<text x="723.9" y="405.8" textLength="49.4" lengthAdjust="spacingAndGlyphs" class="td">90.14 ± 0.45</text>
<line x1="354.4" y1="424.0" x2="784.0" y2="424.0" stroke="#55606b" stroke-width="0.95"/>
<text x="390.5" y="420.2" textLength="36.9" lengthAdjust="spacingAndGlyphs" class="tn">Pergolide</text>
<text x="447.0" y="420.2" textLength="17.3" lengthAdjust="spacingAndGlyphs" class="td">8.45</text>
<text x="489.6" y="420.2" textLength="49.4" lengthAdjust="spacingAndGlyphs" class="td">93.45 ± 3.34</text>
<text x="564.4" y="420.2" textLength="17.3" lengthAdjust="spacingAndGlyphs" class="td">7.34</text>
<text x="606.8" y="420.2" textLength="49.4" lengthAdjust="spacingAndGlyphs" class="td">70.30 ± 1.16</text>
<text x="681.3" y="420.2" textLength="17.3" lengthAdjust="spacingAndGlyphs" class="td">8.55</text>
<text x="723.9" y="420.2" textLength="49.4" lengthAdjust="spacingAndGlyphs" class="td">98.46 ± 4.73</text>
<line x1="354.4" y1="438.8" x2="784.0" y2="438.8" stroke="#55606b" stroke-width="0.95"/>
<text x="360.2" y="435.0" textLength="67.2" lengthAdjust="spacingAndGlyphs" class="tn">Norfenfluramine</text>
<text x="447.0" y="435.0" textLength="17.3" lengthAdjust="spacingAndGlyphs" class="td">6.93</text>
<text x="489.6" y="435.0" textLength="49.4" lengthAdjust="spacingAndGlyphs" class="td">72.12 ± 4.89</text>
<text x="571.6" y="435.0" textLength="3.0" lengthAdjust="spacingAndGlyphs" class="td">-</text>
<text x="606.8" y="435.0" textLength="49.4" lengthAdjust="spacingAndGlyphs" class="td">19.39 ± 1.03</text>
<text x="681.3" y="435.0" textLength="17.3" lengthAdjust="spacingAndGlyphs" class="td">7.31</text>
<text x="723.9" y="435.0" textLength="49.4" lengthAdjust="spacingAndGlyphs" class="td">98.26 ± 0.97</text>
<text x="380.0" y="449.4" textLength="47.4" lengthAdjust="spacingAndGlyphs" class="tn">Cabergoline</text>
<text x="447.0" y="449.4" textLength="17.3" lengthAdjust="spacingAndGlyphs" class="td">8.26</text>
<text x="489.6" y="449.4" textLength="49.4" lengthAdjust="spacingAndGlyphs" class="td">90.58 ± 4.64</text>
<text x="564.4" y="449.4" textLength="17.3" lengthAdjust="spacingAndGlyphs" class="td">7.12</text>
<text x="606.8" y="449.4" textLength="49.4" lengthAdjust="spacingAndGlyphs" class="td">87.80 ± 2.81</text>
<text x="681.3" y="449.4" textLength="17.3" lengthAdjust="spacingAndGlyphs" class="td">8.77</text>
<text x="723.9" y="449.4" textLength="49.4" lengthAdjust="spacingAndGlyphs" class="td">99.86 ± 3.58</text>
<line x1="354.4" y1="351.0" x2="784.0" y2="351.0" stroke="#46525e" stroke-width="1"/>
<line x1="432.4" y1="322.2" x2="432.4" y2="453.2" stroke="#7a838c" stroke-width="0.95"/>
<line x1="479" y1="336.6" x2="479" y2="453.2" stroke="#7a838c" stroke-width="0.95"/>
<line x1="549.7" y1="322.2" x2="549.7" y2="453.2" stroke="#7a838c" stroke-width="0.95"/>
<line x1="596.4" y1="336.6" x2="596.4" y2="453.2" stroke="#7a838c" stroke-width="0.95"/>
<line x1="666.7" y1="322.2" x2="666.7" y2="453.2" stroke="#7a838c" stroke-width="0.95"/>
<line x1="713.2" y1="336.6" x2="713.2" y2="453.2" stroke="#7a838c" stroke-width="0.95"/>
</g>
</svg>
</body></html>
